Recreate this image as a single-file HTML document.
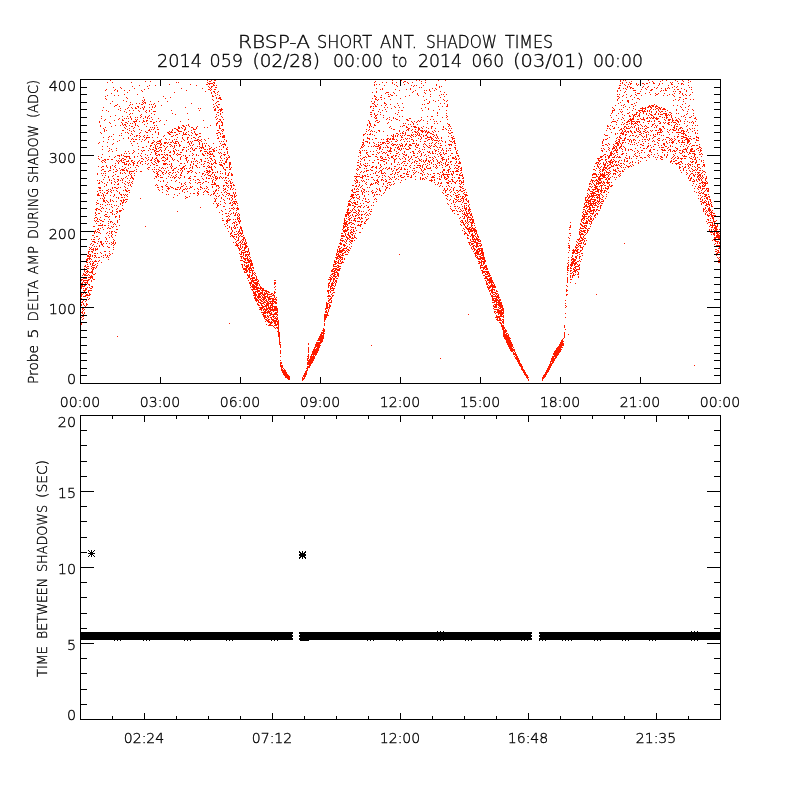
<!DOCTYPE html>
<html lang="en"><head><meta charset="utf-8"><title>RBSP-A SHORT ANT. SHADOW TIMES</title>
<style>html,body{margin:0;padding:0;background:#fff}svg{display:block}text{font-family:"DejaVu Sans Light","DejaVu Sans","Liberation Sans",sans-serif;fill:#000;stroke:#000;stroke-width:.35px}.ln{stroke:#000;stroke-width:1;fill:none;shape-rendering:crispEdges}.dt{stroke:#ff1c00;stroke-width:1;fill:none;shape-rendering:crispEdges}.bk{fill:#000;stroke:none;shape-rendering:crispEdges}</style></head><body>
<svg width="800" height="800" viewBox="0 0 800 800">
<rect width="800" height="800" fill="#fff"/>
<path class="dt" transform="translate(0 .5)" d="M81 279h1M81 280h1M81 283h1M81 285h1M81 286h1M81 287h1M81 288h1M81 293h1M81 294h1M81 295h1M81 296h1M81 298h1M81 299h1M81 302h1M81 304h1M81 305h1M81 312h1M81 317h1M81 323h1M81 324h1M82 275h1M82 277h1M82 279h1M82 282h1M82 283h1M82 285h1M82 286h1M82 294h1M82 299h1M82 301h1M82 302h1M82 308h1M82 309h1M82 311h1M82 312h1M82 313h1M82 315h1M82 316h1M82 319h1M83 273h1M83 274h1M83 278h1M83 280h1M83 281h1M83 286h1M83 288h1M83 290h1M83 293h1M83 296h1M83 299h1M83 300h1M83 303h1M83 304h1M83 307h1M83 308h1M83 310h1M83 314h1M83 316h1M83 318h1M84 266h1M84 268h1M84 270h1M84 271h1M84 274h1M84 275h1M84 277h1M84 278h1M84 280h1M84 282h1M84 285h1M84 286h1M84 290h1M84 291h1M84 292h1M84 296h1M84 305h1M84 309h1M84 312h1M84 313h1M85 265h1M85 266h1M85 269h1M85 272h1M85 274h1M85 275h1M85 277h1M85 278h1M85 280h1M85 282h1M85 283h1M85 285h1M85 288h1M85 289h1M85 290h1M85 293h1M85 295h1M85 296h1M85 301h1M85 306h1M86 259h1M86 260h1M86 262h1M86 267h1M86 271h1M86 273h1M86 275h1M86 278h1M86 280h1M86 282h1M86 288h1M86 289h1M86 292h1M86 294h1M86 295h1M86 300h1M86 303h1M86 304h1M86 305h1M87 255h1M87 256h1M87 258h1M87 259h1M87 260h1M87 262h1M87 264h1M87 266h1M87 268h1M87 270h1M87 271h1M87 272h1M87 275h1M87 280h1M87 281h1M87 282h1M87 283h1M87 287h1M87 294h1M87 295h1M87 297h1M87 304h1M88 251h1M88 252h1M88 253h1M88 255h1M88 256h1M88 258h1M88 266h1M88 268h1M88 271h1M88 274h1M88 277h1M88 279h1M88 280h1M88 284h1M88 290h1M88 291h1M88 292h1M88 295h1M88 299h1M89 247h1M89 249h1M89 251h1M89 254h1M89 256h1M89 257h1M89 258h1M89 259h1M89 262h1M89 272h1M89 275h1M89 277h1M89 279h1M89 284h1M89 285h1M89 287h1M89 290h1M89 293h1M89 294h1M89 295h1M89 298h1M90 244h1M90 248h1M90 254h1M90 255h1M90 256h1M90 258h1M90 261h1M90 263h1M90 264h1M90 272h1M90 276h1M90 277h1M90 278h1M90 288h1M90 290h1M90 294h1M91 239h1M91 243h1M91 247h1M91 249h1M91 251h1M91 259h1M91 266h1M91 268h1M91 271h1M91 272h1M91 275h1M91 276h1M91 277h1M91 280h1M91 281h1M91 286h1M91 288h1M91 290h1M92 235h1M92 241h1M92 245h1M92 249h1M92 251h1M92 252h1M92 255h1M92 256h1M92 261h1M92 263h1M92 264h1M92 265h1M92 267h1M92 269h1M92 270h1M92 271h1M92 272h1M92 273h1M92 276h1M92 277h1M92 278h1M92 286h1M92 287h1M93 226h1M93 231h1M93 235h1M93 239h1M93 241h1M93 244h1M93 248h1M93 249h1M93 250h1M93 262h1M93 263h1M93 265h1M93 267h1M93 268h1M93 269h1M93 274h1M93 279h1M94 218h1M94 220h1M94 226h1M94 231h1M94 232h1M94 233h1M94 237h1M94 239h1M94 241h1M94 242h1M94 246h1M94 253h1M94 255h1M94 257h1M94 261h1M94 265h1M94 267h1M94 274h1M94 279h1M95 209h1M95 212h1M95 213h1M95 215h1M95 217h1M95 221h1M95 230h1M95 231h1M95 242h1M95 248h1M95 249h1M95 250h1M95 253h1M95 255h1M95 256h1M95 260h1M95 261h1M95 264h1M95 268h1M95 273h1M96 202h1M96 204h1M96 208h1M96 209h1M96 210h1M96 214h1M96 217h1M96 220h1M96 223h1M96 232h1M96 236h1M96 246h1M96 249h1M96 257h1M96 261h1M96 266h1M96 267h1M97 173h1M97 174h1M97 180h1M97 191h1M97 194h1M97 195h1M97 200h1M97 203h1M97 208h1M97 218h1M97 219h1M97 221h1M97 229h1M97 231h1M97 236h1M97 243h1M97 248h1M97 249h1M97 253h1M97 263h1M97 265h1M98 143h1M98 156h1M98 158h1M98 166h1M98 183h1M98 187h1M98 193h1M98 194h1M98 195h1M98 203h1M98 209h1M98 213h1M98 221h1M98 225h1M98 228h1M98 229h1M98 232h1M98 239h1M98 241h1M98 257h1M98 261h1M99 121h1M99 122h1M99 142h1M99 159h1M99 180h1M99 182h1M99 183h1M99 187h1M99 188h1M99 190h1M99 195h1M99 209h1M99 213h1M99 219h1M99 225h1M99 230h1M99 232h1M99 238h1M99 245h1M99 246h1M99 257h1M99 260h1M100 125h1M100 126h1M100 132h1M100 187h1M100 188h1M100 190h1M100 192h1M100 198h1M100 204h1M100 206h1M100 210h1M100 217h1M100 220h1M100 223h1M100 225h1M100 228h1M100 233h1M100 241h1M100 242h1M100 252h1M101 116h1M101 118h1M101 133h1M101 157h1M101 161h1M101 167h1M101 170h1M101 173h1M101 181h1M101 195h1M101 208h1M101 211h1M101 220h1M101 225h1M101 241h1M101 242h1M101 243h1M101 244h1M101 253h1M101 256h1M101 262h1M102 110h1M102 146h1M102 149h1M102 154h1M102 160h1M102 162h1M102 166h1M102 169h1M102 175h1M102 182h1M102 190h1M102 193h1M102 198h1M102 204h1M102 207h1M102 221h1M102 224h1M102 225h1M102 227h1M102 244h1M102 245h1M103 107h1M103 128h1M103 137h1M103 141h1M103 160h1M103 166h1M103 169h1M103 173h1M103 179h1M103 194h1M103 195h1M103 196h1M103 199h1M103 200h1M103 201h1M103 208h1M103 221h1M103 229h1M103 243h1M103 246h1M103 255h1M103 257h1M104 120h1M104 129h1M104 130h1M104 131h1M104 159h1M104 161h1M104 171h1M104 177h1M104 183h1M104 186h1M104 192h1M104 197h1M104 198h1M104 200h1M104 201h1M104 215h1M104 219h1M104 225h1M104 251h1M105 90h1M105 96h1M105 98h1M105 119h1M105 127h1M105 159h1M105 160h1M105 162h1M105 171h1M105 173h1M105 175h1M105 195h1M105 202h1M105 205h1M105 211h1M105 214h1M105 216h1M105 225h1M105 237h1M105 241h1M105 251h1M105 254h1M105 255h1M106 89h1M106 99h1M106 110h1M106 130h1M106 165h1M106 166h1M106 184h1M106 185h1M106 190h1M106 193h1M106 200h1M106 208h1M106 214h1M106 216h1M106 233h1M106 238h1M106 239h1M106 243h1M106 257h1M107 82h1M107 95h1M107 142h1M107 146h1M107 159h1M107 167h1M107 182h1M107 190h1M107 192h1M107 193h1M107 201h1M107 204h1M107 212h1M107 216h1M107 228h1M107 232h1M107 241h1M107 246h1M107 255h1M107 256h1M108 111h1M108 137h1M108 139h1M108 151h1M108 159h1M108 171h1M108 176h1M108 177h1M108 189h1M108 191h1M108 202h1M108 217h1M108 221h1M108 223h1M108 225h1M108 227h1M108 235h1M108 247h1M108 257h1M108 259h1M109 122h1M109 136h1M109 148h1M109 150h1M109 156h1M109 170h1M109 179h1M109 180h1M109 204h1M109 209h1M109 216h1M109 219h1M109 228h1M109 231h1M109 233h1M109 237h1M109 243h1M109 247h1M109 251h1M109 253h1M109 255h1M110 80h1M110 103h1M110 116h1M110 123h1M110 166h1M110 167h1M110 168h1M110 170h1M110 189h1M110 191h1M110 195h1M110 199h1M110 200h1M110 201h1M110 212h1M110 221h1M110 222h1M110 228h1M110 254h1M111 93h1M111 126h1M111 136h1M111 149h1M111 159h1M111 180h1M111 182h1M111 183h1M111 190h1M111 192h1M111 204h1M111 206h1M111 212h1M111 221h1M111 226h1M111 231h1M111 232h1M111 233h1M111 235h1M111 236h1M111 242h1M111 244h1M112 82h1M112 101h1M112 144h1M112 151h1M112 159h1M112 165h1M112 176h1M112 187h1M112 188h1M112 200h1M112 207h1M112 210h1M112 211h1M112 213h1M112 214h1M112 222h1M112 227h1M112 231h1M112 234h1M112 237h1M112 243h1M112 253h1M113 87h1M113 134h1M113 139h1M113 143h1M113 169h1M113 172h1M113 175h1M113 178h1M113 190h1M113 196h1M113 201h1M113 224h1M113 226h1M113 239h1M113 241h1M113 242h1M113 243h1M113 245h1M113 247h1M113 249h1M114 90h1M114 95h1M114 106h1M114 120h1M114 157h1M114 166h1M114 179h1M114 181h1M114 184h1M114 187h1M114 194h1M114 195h1M114 205h1M114 214h1M114 223h1M114 231h1M114 240h1M114 244h1M115 89h1M115 105h1M115 115h1M115 125h1M115 156h1M115 163h1M115 165h1M115 167h1M115 171h1M115 174h1M115 182h1M115 187h1M115 216h1M115 217h1M115 224h1M115 232h1M115 235h1M115 242h1M115 243h1M116 105h1M116 148h1M116 150h1M116 160h1M116 169h1M116 171h1M116 188h1M116 190h1M116 197h1M116 201h1M116 205h1M116 209h1M116 211h1M116 213h1M116 216h1M116 226h1M116 229h1M116 232h1M117 90h1M117 91h1M117 104h1M117 141h1M117 155h1M117 161h1M117 170h1M117 176h1M117 179h1M117 181h1M117 184h1M117 188h1M117 191h1M117 208h1M117 211h1M117 212h1M117 220h1M117 221h1M117 222h1M117 229h1M117 336h1M118 95h1M118 109h1M118 119h1M118 155h1M118 160h1M118 162h1M118 163h1M118 176h1M118 179h1M118 180h1M118 183h1M118 184h1M118 187h1M118 197h1M118 198h1M118 206h1M119 106h1M119 118h1M119 135h1M119 140h1M119 155h1M119 156h1M119 158h1M119 161h1M119 168h1M119 192h1M119 193h1M119 210h1M119 211h1M119 215h1M119 216h1M119 217h1M119 219h1M119 225h1M120 87h1M120 108h1M120 110h1M120 125h1M120 160h1M120 170h1M120 172h1M120 173h1M120 180h1M120 187h1M120 194h1M120 200h1M120 203h1M120 204h1M120 210h1M120 211h1M121 88h1M121 122h1M121 133h1M121 135h1M121 154h1M121 155h1M121 159h1M121 160h1M121 161h1M121 169h1M121 178h1M121 194h1M121 195h1M121 197h1M121 200h1M121 201h1M121 210h1M122 116h1M122 119h1M122 120h1M122 123h1M122 124h1M122 130h1M122 158h1M122 162h1M122 166h1M122 169h1M122 170h1M122 173h1M122 179h1M122 180h1M122 182h1M122 197h1M122 202h1M122 203h1M122 205h1M122 208h1M123 100h1M123 120h1M123 125h1M123 130h1M123 138h1M123 155h1M123 158h1M123 160h1M123 162h1M123 169h1M123 170h1M123 178h1M123 190h1M123 194h1M123 199h1M123 200h1M123 201h1M123 202h1M123 209h1M124 90h1M124 94h1M124 111h1M124 118h1M124 124h1M124 127h1M124 153h1M124 156h1M124 159h1M124 162h1M124 163h1M124 164h1M124 168h1M124 170h1M124 172h1M124 183h1M124 186h1M124 195h1M124 197h1M124 200h1M125 109h1M125 122h1M125 124h1M125 125h1M125 128h1M125 132h1M125 151h1M125 156h1M125 159h1M125 164h1M125 167h1M125 173h1M125 177h1M125 181h1M125 184h1M125 187h1M125 189h1M125 190h1M125 194h1M125 199h1M125 202h1M126 97h1M126 101h1M126 112h1M126 118h1M126 122h1M126 126h1M126 153h1M126 156h1M126 157h1M126 161h1M126 163h1M126 164h1M126 169h1M126 170h1M126 176h1M126 190h1M126 191h1M126 195h1M126 199h1M126 201h1M127 92h1M127 98h1M127 108h1M127 116h1M127 123h1M127 129h1M127 132h1M127 156h1M127 161h1M127 170h1M127 171h1M127 178h1M127 182h1M127 188h1M127 191h1M127 194h1M127 196h1M127 199h1M128 107h1M128 118h1M128 121h1M128 133h1M128 137h1M128 138h1M128 151h1M128 156h1M128 160h1M128 161h1M128 164h1M128 165h1M128 168h1M128 175h1M128 183h1M128 185h1M128 190h1M129 90h1M129 105h1M129 110h1M129 114h1M129 125h1M129 128h1M129 130h1M129 153h1M129 156h1M129 157h1M129 158h1M129 163h1M129 171h1M129 172h1M129 173h1M129 180h1M129 182h1M129 190h1M129 192h1M130 102h1M130 104h1M130 113h1M130 116h1M130 117h1M130 123h1M130 135h1M130 141h1M130 158h1M130 164h1M130 167h1M130 171h1M130 174h1M130 178h1M130 184h1M130 185h1M131 82h1M131 107h1M131 118h1M131 119h1M131 126h1M131 131h1M131 133h1M131 139h1M131 143h1M131 160h1M131 161h1M131 171h1M131 173h1M131 175h1M131 176h1M131 177h1M131 182h1M131 186h1M132 86h1M132 104h1M132 108h1M132 113h1M132 123h1M132 126h1M132 134h1M132 138h1M132 145h1M132 153h1M132 160h1M132 162h1M132 171h1M132 177h1M132 178h1M132 181h1M132 183h1M133 110h1M133 121h1M133 128h1M133 130h1M133 139h1M133 141h1M133 150h1M133 152h1M133 162h1M133 163h1M133 164h1M133 165h1M133 171h1M133 178h1M133 179h1M134 88h1M134 121h1M134 122h1M134 127h1M134 131h1M134 136h1M134 141h1M134 151h1M134 156h1M134 157h1M134 161h1M134 163h1M134 170h1M134 173h1M134 175h1M135 107h1M135 108h1M135 117h1M135 119h1M135 121h1M135 123h1M135 124h1M135 125h1M135 139h1M135 167h1M136 103h1M136 108h1M136 120h1M136 121h1M136 135h1M136 136h1M136 139h1M136 165h1M136 169h1M136 171h1M137 94h1M137 106h1M137 117h1M137 119h1M137 125h1M137 135h1M137 143h1M137 156h1M137 162h1M137 163h1M137 165h1M138 106h1M138 107h1M138 110h1M138 126h1M138 146h1M138 149h1M138 153h1M138 161h1M138 166h1M139 85h1M139 103h1M139 111h1M139 121h1M139 129h1M139 133h1M139 135h1M139 137h1M139 139h1M139 160h1M140 108h1M140 115h1M140 117h1M140 132h1M140 136h1M140 155h1M140 162h1M140 163h1M140 171h1M140 198h1M141 90h1M141 104h1M141 114h1M141 116h1M141 130h1M141 141h1M141 150h1M141 153h1M141 156h1M141 158h1M141 161h1M141 171h1M142 91h1M142 100h1M142 102h1M142 104h1M142 107h1M142 122h1M142 139h1M142 147h1M142 151h1M142 158h1M142 161h1M142 164h1M143 97h1M143 101h1M143 103h1M143 108h1M143 109h1M143 118h1M143 120h1M143 121h1M143 136h1M143 147h1M143 150h1M143 159h1M144 89h1M144 99h1M144 100h1M144 102h1M144 106h1M144 107h1M144 121h1M144 124h1M144 135h1M144 137h1M144 140h1M144 150h1M145 81h1M145 102h1M145 103h1M145 111h1M145 116h1M145 117h1M145 131h1M145 139h1M145 154h1M145 157h1M145 161h1M145 163h1M145 226h1M146 110h1M146 112h1M146 120h1M146 121h1M146 126h1M146 132h1M146 137h1M146 138h1M146 146h1M146 158h1M147 86h1M147 117h1M147 118h1M147 120h1M147 123h1M147 132h1M147 135h1M147 137h1M147 155h1M147 160h1M147 164h1M147 168h1M148 88h1M148 116h1M148 130h1M148 137h1M148 141h1M148 142h1M148 150h1M148 157h1M148 159h1M148 163h1M148 167h1M148 169h1M149 85h1M149 104h1M149 107h1M149 110h1M149 111h1M149 115h1M149 118h1M149 129h1M149 130h1M149 137h1M149 148h1M149 167h1M150 81h1M150 101h1M150 121h1M150 127h1M150 131h1M150 145h1M150 146h1M150 149h1M150 154h1M150 160h1M150 165h1M151 104h1M151 109h1M151 113h1M151 117h1M151 121h1M151 129h1M151 143h1M151 145h1M151 152h1M151 159h1M151 160h1M151 162h1M152 106h1M152 107h1M152 119h1M152 127h1M152 134h1M152 137h1M152 142h1M152 143h1M152 149h1M152 157h1M152 158h1M152 163h1M152 169h1M153 104h1M153 111h1M153 122h1M153 123h1M153 129h1M153 140h1M153 142h1M153 147h1M153 149h1M153 164h1M153 171h1M154 103h1M154 107h1M154 111h1M154 114h1M154 122h1M154 125h1M154 127h1M154 128h1M154 141h1M154 144h1M154 150h1M154 151h1M154 159h1M154 161h1M154 164h1M154 167h1M154 169h1M154 172h1M154 178h1M155 85h1M155 105h1M155 106h1M155 111h1M155 131h1M155 132h1M155 145h1M155 146h1M155 147h1M155 148h1M155 150h1M155 152h1M155 153h1M155 154h1M155 158h1M155 160h1M155 162h1M155 176h1M155 185h1M156 121h1M156 125h1M156 142h1M156 144h1M156 148h1M156 149h1M156 151h1M156 153h1M156 155h1M156 157h1M156 158h1M156 163h1M156 165h1M156 169h1M156 171h1M156 173h1M156 176h1M156 177h1M156 184h1M157 127h1M157 129h1M157 137h1M157 141h1M157 143h1M157 146h1M157 151h1M157 155h1M157 159h1M157 160h1M157 161h1M157 165h1M157 172h1M157 173h1M157 174h1M157 175h1M157 185h1M157 187h1M158 101h1M158 118h1M158 129h1M158 132h1M158 133h1M158 134h1M158 141h1M158 143h1M158 148h1M158 151h1M158 154h1M158 160h1M158 161h1M158 162h1M158 169h1M158 171h1M158 174h1M158 176h1M158 180h1M158 187h1M158 189h1M159 121h1M159 140h1M159 141h1M159 143h1M159 147h1M159 150h1M159 154h1M159 155h1M159 161h1M159 167h1M159 170h1M159 190h1M160 120h1M160 140h1M160 141h1M160 142h1M160 144h1M160 145h1M160 147h1M160 149h1M160 170h1M160 175h1M160 177h1M160 181h1M161 105h1M161 139h1M161 143h1M161 144h1M161 147h1M161 150h1M161 151h1M161 154h1M161 158h1M161 168h1M161 171h1M161 177h1M161 186h1M162 154h1M162 157h1M162 160h1M162 167h1M162 172h1M162 173h1M162 177h1M162 186h1M162 187h1M162 189h1M162 192h1M163 96h1M163 136h1M163 145h1M163 156h1M163 157h1M163 160h1M163 163h1M163 164h1M163 168h1M163 172h1M163 174h1M163 180h1M163 181h1M164 124h1M164 135h1M164 142h1M164 143h1M164 146h1M164 150h1M164 152h1M164 154h1M164 157h1M164 161h1M164 163h1M164 164h1M164 170h1M165 98h1M165 138h1M165 142h1M165 143h1M165 148h1M165 149h1M165 155h1M165 158h1M165 160h1M165 163h1M165 164h1M165 168h1M165 173h1M165 185h1M166 120h1M166 139h1M166 142h1M166 147h1M166 154h1M166 159h1M166 163h1M166 171h1M166 172h1M166 178h1M166 184h1M166 186h1M166 190h1M166 194h1M167 101h1M167 132h1M167 143h1M167 146h1M167 154h1M167 155h1M167 157h1M167 158h1M167 159h1M167 164h1M167 167h1M167 182h1M167 186h1M167 188h1M167 191h1M168 132h1M168 133h1M168 142h1M168 150h1M168 170h1M168 173h1M168 176h1M168 187h1M168 188h1M168 189h1M168 194h1M169 84h1M169 131h1M169 133h1M169 134h1M169 139h1M169 144h1M169 152h1M169 155h1M169 161h1M169 164h1M169 172h1M169 174h1M169 188h1M170 97h1M170 132h1M170 134h1M170 142h1M170 144h1M170 146h1M170 151h1M170 152h1M170 155h1M170 156h1M170 166h1M170 172h1M170 177h1M170 186h1M171 110h1M171 131h1M171 132h1M171 136h1M171 142h1M171 145h1M171 157h1M171 163h1M171 164h1M171 165h1M171 167h1M171 168h1M171 175h1M171 180h1M171 187h1M172 113h1M172 129h1M172 130h1M172 132h1M172 136h1M172 140h1M172 141h1M172 146h1M172 158h1M172 159h1M172 166h1M172 170h1M172 173h1M172 177h1M172 187h1M173 135h1M173 142h1M173 148h1M173 150h1M173 151h1M173 154h1M173 160h1M173 169h1M173 170h1M173 172h1M173 176h1M173 188h1M173 197h1M174 92h1M174 128h1M174 132h1M174 139h1M174 143h1M174 145h1M174 146h1M174 147h1M174 151h1M174 152h1M174 153h1M174 159h1M174 168h1M174 177h1M174 178h1M174 194h1M175 114h1M175 128h1M175 132h1M175 135h1M175 141h1M175 142h1M175 143h1M175 149h1M175 168h1M175 172h1M175 175h1M175 177h1M175 181h1M175 188h1M175 189h1M176 82h1M176 129h1M176 134h1M176 139h1M176 141h1M176 143h1M176 145h1M176 150h1M176 154h1M176 167h1M176 174h1M176 176h1M176 180h1M176 189h1M177 129h1M177 130h1M177 134h1M177 137h1M177 141h1M177 153h1M177 155h1M177 160h1M177 171h1M177 187h1M177 189h1M177 195h1M177 211h1M178 82h1M178 126h1M178 127h1M178 128h1M178 130h1M178 131h1M178 142h1M178 143h1M178 150h1M178 154h1M178 161h1M178 169h1M178 172h1M178 177h1M178 187h1M179 127h1M179 128h1M179 131h1M179 133h1M179 144h1M179 145h1M179 146h1M179 154h1M179 165h1M179 178h1M179 182h1M179 189h1M179 193h1M180 121h1M180 131h1M180 145h1M180 152h1M180 154h1M180 157h1M180 158h1M180 159h1M180 163h1M180 168h1M180 170h1M180 174h1M180 175h1M180 177h1M180 187h1M180 188h1M181 88h1M181 127h1M181 131h1M181 141h1M181 152h1M181 156h1M181 163h1M181 168h1M181 169h1M181 172h1M181 173h1M181 175h1M181 183h1M181 184h1M181 186h1M182 125h1M182 128h1M182 135h1M182 137h1M182 138h1M182 149h1M182 150h1M182 167h1M182 168h1M182 170h1M182 171h1M182 186h1M182 190h1M182 191h1M183 125h1M183 126h1M183 132h1M183 133h1M183 134h1M183 139h1M183 147h1M183 149h1M183 155h1M183 166h1M183 167h1M183 185h1M183 189h1M184 126h1M184 129h1M184 130h1M184 134h1M184 140h1M184 147h1M184 163h1M184 166h1M184 168h1M184 169h1M184 176h1M184 177h1M184 183h1M184 189h1M184 192h1M185 107h1M185 127h1M185 128h1M185 129h1M185 133h1M185 134h1M185 155h1M185 156h1M185 158h1M185 165h1M185 182h1M185 184h1M185 188h1M185 196h1M185 198h1M186 90h1M186 125h1M186 132h1M186 134h1M186 147h1M186 150h1M186 151h1M186 157h1M186 158h1M186 159h1M186 160h1M186 168h1M186 186h1M186 189h1M186 197h1M187 113h1M187 137h1M187 138h1M187 139h1M187 142h1M187 157h1M187 161h1M187 162h1M187 171h1M187 173h1M187 188h1M187 191h1M187 197h1M188 119h1M188 124h1M188 125h1M188 131h1M188 134h1M188 137h1M188 141h1M188 142h1M188 146h1M188 149h1M188 160h1M188 171h1M188 172h1M188 178h1M189 126h1M189 135h1M189 143h1M189 144h1M189 155h1M189 168h1M189 171h1M189 177h1M189 178h1M189 182h1M189 188h1M189 196h1M190 84h1M190 141h1M190 145h1M190 148h1M190 151h1M190 164h1M190 165h1M190 167h1M190 170h1M190 176h1M190 178h1M190 180h1M190 183h1M190 186h1M190 187h1M190 193h1M191 103h1M191 127h1M191 130h1M191 132h1M191 135h1M191 138h1M191 142h1M191 143h1M191 147h1M191 161h1M191 162h1M191 170h1M191 172h1M191 187h1M192 127h1M192 133h1M192 141h1M192 145h1M192 148h1M192 149h1M192 153h1M192 155h1M192 158h1M192 166h1M192 167h1M192 168h1M192 171h1M192 186h1M193 128h1M193 129h1M193 137h1M193 144h1M193 150h1M193 154h1M193 161h1M193 163h1M193 164h1M193 179h1M193 193h1M194 129h1M194 131h1M194 132h1M194 137h1M194 140h1M194 149h1M194 150h1M194 158h1M194 159h1M194 176h1M194 189h1M194 193h1M195 129h1M195 133h1M195 134h1M195 138h1M195 140h1M195 148h1M195 161h1M195 165h1M195 172h1M195 176h1M195 180h1M195 182h1M196 85h1M196 127h1M196 128h1M196 134h1M196 135h1M196 140h1M196 148h1M196 154h1M196 155h1M196 160h1M196 165h1M196 166h1M196 173h1M197 126h1M197 134h1M197 139h1M197 140h1M197 146h1M197 161h1M197 163h1M197 167h1M197 179h1M197 183h1M197 188h1M197 192h1M197 193h1M197 195h1M198 108h1M198 137h1M198 139h1M198 141h1M198 155h1M198 179h1M198 182h1M198 189h1M198 191h1M198 193h1M198 194h1M199 110h1M199 133h1M199 136h1M199 140h1M199 142h1M199 143h1M199 144h1M199 146h1M199 148h1M199 162h1M199 167h1M199 172h1M199 180h1M199 182h1M200 108h1M200 133h1M200 136h1M200 140h1M200 147h1M200 150h1M200 151h1M200 159h1M200 182h1M200 184h1M200 186h1M200 187h1M200 189h1M200 207h1M201 139h1M201 141h1M201 147h1M201 148h1M201 150h1M201 159h1M201 160h1M201 161h1M201 164h1M201 176h1M201 187h1M202 88h1M202 143h1M202 144h1M202 145h1M202 146h1M202 147h1M202 153h1M202 154h1M202 173h1M202 174h1M202 178h1M202 183h1M202 188h1M203 120h1M203 147h1M203 148h1M203 154h1M203 155h1M203 164h1M203 166h1M203 173h1M203 179h1M203 182h1M203 192h1M203 194h1M204 127h1M204 139h1M204 143h1M204 149h1M204 151h1M204 155h1M204 161h1M204 163h1M204 166h1M204 171h1M204 175h1M204 188h1M204 191h1M205 91h1M205 140h1M205 145h1M205 146h1M205 149h1M205 151h1M205 153h1M205 158h1M205 161h1M205 174h1M205 181h1M205 190h1M206 84h1M206 143h1M206 151h1M206 168h1M206 170h1M206 172h1M206 177h1M206 178h1M206 181h1M206 186h1M206 188h1M206 191h1M207 80h1M207 82h1M207 84h1M207 127h1M207 149h1M207 152h1M207 153h1M207 155h1M207 158h1M207 162h1M207 166h1M207 170h1M207 171h1M207 172h1M207 174h1M207 187h1M207 191h1M207 192h1M208 83h1M208 86h1M208 89h1M208 138h1M208 145h1M208 153h1M208 160h1M208 162h1M208 165h1M208 167h1M208 171h1M208 173h1M208 175h1M208 178h1M208 182h1M208 189h1M208 192h1M208 194h1M209 81h1M209 83h1M209 84h1M209 87h1M209 89h1M209 146h1M209 148h1M209 149h1M209 151h1M209 152h1M209 154h1M209 157h1M209 163h1M209 166h1M209 167h1M209 170h1M209 171h1M209 172h1M209 175h1M209 178h1M210 81h1M210 83h1M210 88h1M210 90h1M210 125h1M210 148h1M210 151h1M210 153h1M210 154h1M210 156h1M210 158h1M210 161h1M210 167h1M210 171h1M210 175h1M210 176h1M210 195h1M211 80h1M211 83h1M211 86h1M211 87h1M211 89h1M211 92h1M211 93h1M211 147h1M211 151h1M211 154h1M211 158h1M211 159h1M211 163h1M211 164h1M211 166h1M211 167h1M211 168h1M211 169h1M211 174h1M211 178h1M211 184h1M211 194h1M212 83h1M212 86h1M212 95h1M212 96h1M212 99h1M212 149h1M212 153h1M212 154h1M212 160h1M212 164h1M212 169h1M212 170h1M212 172h1M212 173h1M212 176h1M212 180h1M212 181h1M212 182h1M212 184h1M212 186h1M212 187h1M213 82h1M213 84h1M213 85h1M213 91h1M213 96h1M213 100h1M213 104h1M213 107h1M213 143h1M213 149h1M213 150h1M213 151h1M213 155h1M213 156h1M213 163h1M213 172h1M213 177h1M213 179h1M213 184h1M213 191h1M213 193h1M213 194h1M213 203h1M214 80h1M214 82h1M214 83h1M214 85h1M214 89h1M214 91h1M214 92h1M214 106h1M214 109h1M214 110h1M214 148h1M214 150h1M214 151h1M214 156h1M214 159h1M214 162h1M214 166h1M214 174h1M214 175h1M214 182h1M214 183h1M214 184h1M214 192h1M214 193h1M214 198h1M214 201h1M215 80h1M215 87h1M215 89h1M215 93h1M215 95h1M215 103h1M215 108h1M215 109h1M215 110h1M215 117h1M215 160h1M215 161h1M215 162h1M215 163h1M215 167h1M215 172h1M215 176h1M215 177h1M215 178h1M215 180h1M215 183h1M215 184h1M215 190h1M215 191h1M215 195h1M215 199h1M215 200h1M215 201h1M216 85h1M216 87h1M216 97h1M216 98h1M216 102h1M216 105h1M216 114h1M216 116h1M216 119h1M216 123h1M216 124h1M216 125h1M216 133h1M216 147h1M216 150h1M216 163h1M216 176h1M216 178h1M216 179h1M216 185h1M216 186h1M216 189h1M216 190h1M216 196h1M216 198h1M216 203h1M216 207h1M217 92h1M217 94h1M217 101h1M217 106h1M217 107h1M217 112h1M217 118h1M217 122h1M217 123h1M217 130h1M217 133h1M217 135h1M217 138h1M217 171h1M217 172h1M217 177h1M217 178h1M217 185h1M217 193h1M217 204h1M217 205h1M217 206h1M218 91h1M218 98h1M218 101h1M218 104h1M218 107h1M218 110h1M218 112h1M218 115h1M218 121h1M218 130h1M218 132h1M218 137h1M218 138h1M218 152h1M218 185h1M218 186h1M218 188h1M218 190h1M218 196h1M218 203h1M218 205h1M219 95h1M219 97h1M219 98h1M219 104h1M219 109h1M219 119h1M219 121h1M219 125h1M219 126h1M219 127h1M219 128h1M219 132h1M219 141h1M219 146h1M219 149h1M219 153h1M219 162h1M219 164h1M219 177h1M219 178h1M219 187h1M219 195h1M219 212h1M220 97h1M220 98h1M220 99h1M220 109h1M220 110h1M220 111h1M220 113h1M220 114h1M220 119h1M220 120h1M220 128h1M220 133h1M220 134h1M220 136h1M220 143h1M220 152h1M220 156h1M220 157h1M220 160h1M220 164h1M220 165h1M220 171h1M220 173h1M220 176h1M220 201h1M220 204h1M221 99h1M221 108h1M221 109h1M221 110h1M221 116h1M221 121h1M221 122h1M221 125h1M221 130h1M221 141h1M221 145h1M221 149h1M221 153h1M221 155h1M221 158h1M221 162h1M221 164h1M221 165h1M221 177h1M221 192h1M221 197h1M221 198h1M221 210h1M222 109h1M222 112h1M222 117h1M222 122h1M222 123h1M222 124h1M222 125h1M222 129h1M222 131h1M222 133h1M222 136h1M222 137h1M222 144h1M222 160h1M222 165h1M222 166h1M222 173h1M222 178h1M222 194h1M222 211h1M222 214h1M222 218h1M222 220h1M223 119h1M223 129h1M223 130h1M223 135h1M223 136h1M223 137h1M223 141h1M223 144h1M223 146h1M223 147h1M223 154h1M223 163h1M223 167h1M223 168h1M223 177h1M223 185h1M223 186h1M223 188h1M223 190h1M223 195h1M223 199h1M223 206h1M223 220h1M224 135h1M224 136h1M224 137h1M224 139h1M224 143h1M224 144h1M224 152h1M224 154h1M224 155h1M224 158h1M224 163h1M224 164h1M224 169h1M224 180h1M224 185h1M224 189h1M224 192h1M224 200h1M224 202h1M224 206h1M224 224h1M225 144h1M225 145h1M225 154h1M225 161h1M225 162h1M225 169h1M225 170h1M225 172h1M225 173h1M225 174h1M225 177h1M225 178h1M225 182h1M225 188h1M225 189h1M225 191h1M225 196h1M225 203h1M225 209h1M225 213h1M225 226h1M226 140h1M226 141h1M226 148h1M226 149h1M226 157h1M226 159h1M226 160h1M226 161h1M226 162h1M226 167h1M226 177h1M226 180h1M226 182h1M226 183h1M226 185h1M226 192h1M226 194h1M226 213h1M226 216h1M226 220h1M226 221h1M226 223h1M227 147h1M227 149h1M227 151h1M227 152h1M227 153h1M227 158h1M227 159h1M227 167h1M227 175h1M227 183h1M227 186h1M227 190h1M227 193h1M227 198h1M227 216h1M227 219h1M227 220h1M227 221h1M227 222h1M227 225h1M227 228h1M228 155h1M228 157h1M228 173h1M228 174h1M228 175h1M228 178h1M228 181h1M228 185h1M228 187h1M228 193h1M228 195h1M228 213h1M228 215h1M228 218h1M228 220h1M228 231h1M229 156h1M229 157h1M229 162h1M229 163h1M229 164h1M229 165h1M229 166h1M229 167h1M229 169h1M229 172h1M229 180h1M229 193h1M229 194h1M229 198h1M229 199h1M229 203h1M229 208h1M229 211h1M229 216h1M229 219h1M229 220h1M229 226h1M229 227h1M229 323h1M230 162h1M230 163h1M230 164h1M230 168h1M230 169h1M230 181h1M230 182h1M230 183h1M230 185h1M230 188h1M230 189h1M230 195h1M230 202h1M230 203h1M230 210h1M230 214h1M230 219h1M230 233h1M230 234h1M230 236h1M231 167h1M231 173h1M231 174h1M231 175h1M231 179h1M231 183h1M231 185h1M231 186h1M231 187h1M231 195h1M231 197h1M231 200h1M231 205h1M231 208h1M231 213h1M231 227h1M231 228h1M231 229h1M231 232h1M231 233h1M231 235h1M232 174h1M232 175h1M232 182h1M232 189h1M232 195h1M232 196h1M232 198h1M232 199h1M232 202h1M232 204h1M232 205h1M232 208h1M232 223h1M232 230h1M232 231h1M232 235h1M232 236h1M233 184h1M233 185h1M233 188h1M233 192h1M233 193h1M233 201h1M233 203h1M233 207h1M233 209h1M233 212h1M233 213h1M233 219h1M233 222h1M233 227h1M233 236h1M233 237h1M233 242h1M234 185h1M234 194h1M234 195h1M234 196h1M234 197h1M234 201h1M234 202h1M234 203h1M234 208h1M234 215h1M234 222h1M234 223h1M234 225h1M234 226h1M234 228h1M234 232h1M234 234h1M234 236h1M234 238h1M235 189h1M235 192h1M235 193h1M235 196h1M235 199h1M235 201h1M235 203h1M235 204h1M235 213h1M235 214h1M235 215h1M235 219h1M235 221h1M235 227h1M235 228h1M235 234h1M235 239h1M235 242h1M235 245h1M236 195h1M236 201h1M236 202h1M236 208h1M236 210h1M236 212h1M236 222h1M236 224h1M236 225h1M236 231h1M236 234h1M236 236h1M236 237h1M236 241h1M236 243h1M236 244h1M236 245h1M237 203h1M237 205h1M237 207h1M237 208h1M237 209h1M237 214h1M237 215h1M237 217h1M237 218h1M237 219h1M237 224h1M237 227h1M237 233h1M237 240h1M237 244h1M237 245h1M237 246h1M238 208h1M238 209h1M238 213h1M238 216h1M238 218h1M238 220h1M238 221h1M238 231h1M238 232h1M238 234h1M238 235h1M238 237h1M238 238h1M238 239h1M238 240h1M238 243h1M238 245h1M238 247h1M238 248h1M239 214h1M239 215h1M239 217h1M239 218h1M239 219h1M239 221h1M239 222h1M239 223h1M239 229h1M239 230h1M239 231h1M239 233h1M239 236h1M239 242h1M239 248h1M239 249h1M239 250h1M239 253h1M240 220h1M240 221h1M240 226h1M240 227h1M240 228h1M240 232h1M240 233h1M240 235h1M240 241h1M240 242h1M240 244h1M240 245h1M240 246h1M240 247h1M240 249h1M240 254h1M240 256h1M240 260h1M241 227h1M241 228h1M241 229h1M241 230h1M241 233h1M241 234h1M241 236h1M241 240h1M241 243h1M241 248h1M241 251h1M241 252h1M241 253h1M241 254h1M241 256h1M241 257h1M241 258h1M241 260h1M241 264h1M242 230h1M242 231h1M242 232h1M242 233h1M242 236h1M242 239h1M242 241h1M242 242h1M242 244h1M242 246h1M242 247h1M242 250h1M242 252h1M242 256h1M242 260h1M242 264h1M242 265h1M242 266h1M242 267h1M243 235h1M243 237h1M243 238h1M243 239h1M243 240h1M243 244h1M243 250h1M243 252h1M243 253h1M243 254h1M243 255h1M243 257h1M243 258h1M243 261h1M243 268h1M243 269h1M244 237h1M244 238h1M244 242h1M244 243h1M244 244h1M244 247h1M244 248h1M244 249h1M244 250h1M244 252h1M244 258h1M244 259h1M244 261h1M244 262h1M244 264h1M244 265h1M244 268h1M244 269h1M244 271h1M244 272h1M245 239h1M245 240h1M245 241h1M245 243h1M245 244h1M245 245h1M245 246h1M245 247h1M245 248h1M245 251h1M245 252h1M245 254h1M245 255h1M245 256h1M245 258h1M245 259h1M245 260h1M245 262h1M245 266h1M245 268h1M245 269h1M245 270h1M245 272h1M246 242h1M246 243h1M246 245h1M246 246h1M246 247h1M246 251h1M246 254h1M246 255h1M246 258h1M246 262h1M246 263h1M246 265h1M246 266h1M246 267h1M246 268h1M246 269h1M246 270h1M246 271h1M246 272h1M247 246h1M247 251h1M247 252h1M247 254h1M247 256h1M247 257h1M247 258h1M247 259h1M247 260h1M247 262h1M247 265h1M247 266h1M247 267h1M247 270h1M247 271h1M247 274h1M247 275h1M247 278h1M248 248h1M248 249h1M248 250h1M248 251h1M248 254h1M248 255h1M248 259h1M248 260h1M248 261h1M248 262h1M248 264h1M248 265h1M248 266h1M248 268h1M248 269h1M248 275h1M248 276h1M248 277h1M248 280h1M249 252h1M249 253h1M249 254h1M249 256h1M249 258h1M249 260h1M249 261h1M249 262h1M249 267h1M249 268h1M249 269h1M249 270h1M249 271h1M249 272h1M249 274h1M249 275h1M249 276h1M249 277h1M249 282h1M249 283h1M250 257h1M250 259h1M250 260h1M250 261h1M250 263h1M250 264h1M250 265h1M250 266h1M250 267h1M250 268h1M250 270h1M250 272h1M250 278h1M250 279h1M250 282h1M250 283h1M250 284h1M250 285h1M250 287h1M251 260h1M251 261h1M251 262h1M251 263h1M251 264h1M251 265h1M251 268h1M251 269h1M251 270h1M251 275h1M251 276h1M251 278h1M251 280h1M251 281h1M251 282h1M251 283h1M251 286h1M251 289h1M252 263h1M252 264h1M252 265h1M252 267h1M252 270h1M252 271h1M252 272h1M252 273h1M252 274h1M252 275h1M252 277h1M252 278h1M252 279h1M252 280h1M252 281h1M252 284h1M252 285h1M252 286h1M252 287h1M252 289h1M252 290h1M253 267h1M253 268h1M253 270h1M253 273h1M253 277h1M253 278h1M253 280h1M253 281h1M253 282h1M253 284h1M253 285h1M253 286h1M253 287h1M253 288h1M253 289h1M253 291h1M253 292h1M253 293h1M253 295h1M254 272h1M254 274h1M254 277h1M254 278h1M254 280h1M254 282h1M254 283h1M254 285h1M254 286h1M254 287h1M254 288h1M254 289h1M254 292h1M254 293h1M254 294h1M254 295h1M254 297h1M254 298h1M255 273h1M255 275h1M255 279h1M255 280h1M255 282h1M255 283h1M255 284h1M255 286h1M255 287h1M255 289h1M255 291h1M255 292h1M255 293h1M255 294h1M255 295h1M255 296h1M255 297h1M255 298h1M255 299h1M255 300h1M256 276h1M256 277h1M256 278h1M256 279h1M256 280h1M256 282h1M256 283h1M256 284h1M256 285h1M256 286h1M256 287h1M256 288h1M256 289h1M256 291h1M256 294h1M256 295h1M256 298h1M256 299h1M256 300h1M256 301h1M257 279h1M257 281h1M257 282h1M257 283h1M257 284h1M257 285h1M257 287h1M257 288h1M257 289h1M257 290h1M257 291h1M257 292h1M257 296h1M257 297h1M257 299h1M257 300h1M257 303h1M257 304h1M258 280h1M258 281h1M258 283h1M258 287h1M258 288h1M258 290h1M258 291h1M258 293h1M258 294h1M258 295h1M258 296h1M258 297h1M258 298h1M258 300h1M258 301h1M258 302h1M258 304h1M258 305h1M259 284h1M259 285h1M259 288h1M259 290h1M259 291h1M259 293h1M259 294h1M259 295h1M259 296h1M259 297h1M259 299h1M259 302h1M259 305h1M259 307h1M259 309h1M260 286h1M260 287h1M260 288h1M260 289h1M260 292h1M260 293h1M260 294h1M260 296h1M260 297h1M260 299h1M260 300h1M260 302h1M260 303h1M260 307h1M260 308h1M260 309h1M261 287h1M261 288h1M261 290h1M261 292h1M261 293h1M261 295h1M261 298h1M261 300h1M261 301h1M261 303h1M261 304h1M261 305h1M261 307h1M261 308h1M261 309h1M261 310h1M261 312h1M262 288h1M262 289h1M262 290h1M262 291h1M262 292h1M262 293h1M262 294h1M262 296h1M262 297h1M262 299h1M262 301h1M262 303h1M262 305h1M262 306h1M262 307h1M262 308h1M262 312h1M262 314h1M263 288h1M263 289h1M263 290h1M263 294h1M263 295h1M263 297h1M263 298h1M263 299h1M263 300h1M263 302h1M263 303h1M263 306h1M263 307h1M263 309h1M263 310h1M263 312h1M263 313h1M263 314h1M263 315h1M263 316h1M264 290h1M264 292h1M264 293h1M264 294h1M264 295h1M264 296h1M264 297h1M264 298h1M264 299h1M264 301h1M264 302h1M264 304h1M264 306h1M264 308h1M264 309h1M264 311h1M264 312h1M264 313h1M264 315h1M264 316h1M264 317h1M264 318h1M265 290h1M265 291h1M265 293h1M265 294h1M265 296h1M265 297h1M265 298h1M265 300h1M265 302h1M265 305h1M265 306h1M265 309h1M265 310h1M265 311h1M265 312h1M265 313h1M265 315h1M265 316h1M265 317h1M265 319h1M265 321h1M266 290h1M266 291h1M266 292h1M266 293h1M266 296h1M266 299h1M266 300h1M266 301h1M266 303h1M266 304h1M266 305h1M266 306h1M266 307h1M266 308h1M266 309h1M266 310h1M266 312h1M266 317h1M266 319h1M266 320h1M266 324h1M267 291h1M267 293h1M267 294h1M267 295h1M267 296h1M267 297h1M267 301h1M267 302h1M267 303h1M267 304h1M267 305h1M267 308h1M267 309h1M267 311h1M267 312h1M267 313h1M267 315h1M267 316h1M267 318h1M267 320h1M267 321h1M268 291h1M268 292h1M268 294h1M268 297h1M268 298h1M268 299h1M268 300h1M268 302h1M268 303h1M268 304h1M268 305h1M268 306h1M268 307h1M268 308h1M268 310h1M268 311h1M268 312h1M268 316h1M268 317h1M268 319h1M268 320h1M268 321h1M268 322h1M268 325h1M269 292h1M269 294h1M269 296h1M269 297h1M269 298h1M269 299h1M269 301h1M269 303h1M269 307h1M269 308h1M269 309h1M269 311h1M269 312h1M269 313h1M269 315h1M269 319h1M269 321h1M269 322h1M269 324h1M269 325h1M270 294h1M270 296h1M270 298h1M270 299h1M270 301h1M270 302h1M270 303h1M270 305h1M270 306h1M270 307h1M270 308h1M270 309h1M270 310h1M270 311h1M270 313h1M270 314h1M270 315h1M270 317h1M270 322h1M270 323h1M270 324h1M270 325h1M271 293h1M271 294h1M271 296h1M271 298h1M271 301h1M271 303h1M271 304h1M271 305h1M271 307h1M271 309h1M271 310h1M271 312h1M271 313h1M271 314h1M271 317h1M271 318h1M271 319h1M271 321h1M271 322h1M271 323h1M271 325h1M272 293h1M272 295h1M272 298h1M272 299h1M272 300h1M272 301h1M272 302h1M272 303h1M272 304h1M272 305h1M272 306h1M272 307h1M272 308h1M272 309h1M272 310h1M272 314h1M272 316h1M272 319h1M272 320h1M272 322h1M272 325h1M273 294h1M273 295h1M273 298h1M273 299h1M273 300h1M273 301h1M273 303h1M273 306h1M273 309h1M273 310h1M273 311h1M273 314h1M273 315h1M273 316h1M273 317h1M273 319h1M273 320h1M273 321h1M273 326h1M274 280h1M274 282h1M274 283h1M274 284h1M274 287h1M274 291h1M274 292h1M274 293h1M274 295h1M274 296h1M274 297h1M274 299h1M274 301h1M274 302h1M274 306h1M274 307h1M274 308h1M274 309h1M274 310h1M274 313h1M274 314h1M274 316h1M274 318h1M274 320h1M274 321h1M274 322h1M274 323h1M274 325h1M274 327h1M275 280h1M275 282h1M275 283h1M275 286h1M275 289h1M275 292h1M275 298h1M275 299h1M275 301h1M275 302h1M275 303h1M275 306h1M275 307h1M275 308h1M275 309h1M275 310h1M275 312h1M275 313h1M275 314h1M275 317h1M275 318h1M275 320h1M275 321h1M275 322h1M275 323h1M275 324h1M275 325h1M275 328h1M276 297h1M276 299h1M276 300h1M276 302h1M276 303h1M276 306h1M276 307h1M276 308h1M276 309h1M276 310h1M276 312h1M276 313h1M276 314h1M276 316h1M276 318h1M276 319h1M276 320h1M276 321h1M276 324h1M276 325h1M276 327h1M277 308h1M277 309h1M277 310h1M277 311h1M277 312h1M277 314h1M277 315h1M277 317h1M277 318h1M277 319h1M277 321h1M277 322h1M277 323h1M277 324h1M277 327h1M277 328h1M277 331h1M278 320h1M278 321h1M278 322h1M278 323h1M278 324h1M278 325h1M278 326h1M278 327h1M278 328h1M278 329h1M278 330h1M278 331h1M278 332h1M278 333h1M278 334h1M278 335h1M278 336h1M279 332h1M279 333h1M279 334h1M279 335h1M279 336h1M279 337h1M279 338h1M279 339h1M279 340h1M279 341h1M279 342h1M279 343h1M279 344h1M280 342h1M280 344h1M280 345h1M280 346h1M280 347h1M280 350h1M280 351h1M280 352h1M280 353h1M280 356h1M280 360h1M280 362h1M280 363h1M280 364h1M280 365h1M280 366h1M281 362h1M281 363h1M281 365h1M281 366h1M281 367h1M281 368h1M281 369h1M281 370h1M282 365h1M282 366h1M282 367h1M282 369h1M282 370h1M282 371h1M282 372h1M283 368h1M283 370h1M283 371h1M283 372h1M283 373h1M283 374h1M284 369h1M284 370h1M284 371h1M284 372h1M284 373h1M284 374h1M284 375h1M285 370h1M285 371h1M285 372h1M285 373h1M285 374h1M285 375h1M285 376h1M285 377h1M286 372h1M286 373h1M286 374h1M286 375h1M286 376h1M286 377h1M287 374h1M287 375h1M287 376h1M287 377h1M287 378h1M288 375h1M288 376h1M288 377h1M288 378h1M288 379h1M289 376h1M289 377h1M289 378h1M289 379h1M302 377h1M302 378h1M302 379h1M302 380h1M303 375h1M303 376h1M303 378h1M303 379h1M304 373h1M304 374h1M304 375h1M304 376h1M304 377h1M304 378h1M305 371h1M305 372h1M305 373h1M305 374h1M305 375h1M305 376h1M306 368h1M306 370h1M306 371h1M306 372h1M306 373h1M306 374h1M307 356h1M307 358h1M307 359h1M307 360h1M307 362h1M307 363h1M307 364h1M307 366h1M307 367h1M307 368h1M307 369h1M307 370h1M308 343h1M308 344h1M308 347h1M308 348h1M308 349h1M308 350h1M308 351h1M308 352h1M308 354h1M308 355h1M308 356h1M308 357h1M308 358h1M308 360h1M308 361h1M308 362h1M308 363h1M308 364h1M308 366h1M308 367h1M309 359h1M309 360h1M309 361h1M309 362h1M309 363h1M309 364h1M309 365h1M309 366h1M309 367h1M310 356h1M310 357h1M310 358h1M310 359h1M310 360h1M310 361h1M310 362h1M310 363h1M310 364h1M310 365h1M311 354h1M311 355h1M311 356h1M311 357h1M311 358h1M311 359h1M311 360h1M311 361h1M311 362h1M311 363h1M312 351h1M312 352h1M312 353h1M312 354h1M312 356h1M312 357h1M312 358h1M312 359h1M312 360h1M312 361h1M312 362h1M313 349h1M313 350h1M313 351h1M313 352h1M313 353h1M313 354h1M313 355h1M313 356h1M313 357h1M313 358h1M313 359h1M313 360h1M314 347h1M314 348h1M314 349h1M314 350h1M314 351h1M314 352h1M314 353h1M314 354h1M314 356h1M314 357h1M314 358h1M315 344h1M315 345h1M315 346h1M315 347h1M315 349h1M315 350h1M315 351h1M315 352h1M315 353h1M315 354h1M315 355h1M316 342h1M316 343h1M316 344h1M316 345h1M316 346h1M316 348h1M316 349h1M316 350h1M316 351h1M316 352h1M316 353h1M316 354h1M317 340h1M317 342h1M317 343h1M317 344h1M317 345h1M317 346h1M317 347h1M317 348h1M317 349h1M317 350h1M317 351h1M317 352h1M318 338h1M318 339h1M318 340h1M318 342h1M318 343h1M318 344h1M318 345h1M318 346h1M318 347h1M318 348h1M318 349h1M318 350h1M319 336h1M319 337h1M319 338h1M319 339h1M319 340h1M319 342h1M319 343h1M319 344h1M319 345h1M319 346h1M319 347h1M320 334h1M320 335h1M320 336h1M320 337h1M320 338h1M320 339h1M320 340h1M320 341h1M320 342h1M320 343h1M320 345h1M321 332h1M321 333h1M321 334h1M321 335h1M321 336h1M321 337h1M321 338h1M321 339h1M321 340h1M321 341h1M321 342h1M322 330h1M322 332h1M322 333h1M322 335h1M322 336h1M322 337h1M322 338h1M322 339h1M322 340h1M322 341h1M323 328h1M323 329h1M323 330h1M323 331h1M323 332h1M323 333h1M323 334h1M323 335h1M323 336h1M323 337h1M323 338h1M324 314h1M324 315h1M324 316h1M324 317h1M324 318h1M324 319h1M324 320h1M324 321h1M324 323h1M324 324h1M324 325h1M324 329h1M324 330h1M324 331h1M324 333h1M325 308h1M325 309h1M325 311h1M325 312h1M325 314h1M325 315h1M325 316h1M325 317h1M325 318h1M325 319h1M326 302h1M326 303h1M326 304h1M326 305h1M326 306h1M326 307h1M326 308h1M326 310h1M326 311h1M326 312h1M326 314h1M326 315h1M326 316h1M326 317h1M327 290h1M327 291h1M327 296h1M327 303h1M327 304h1M327 305h1M327 306h1M327 307h1M327 308h1M327 312h1M327 313h1M327 314h1M327 315h1M328 279h1M328 283h1M328 284h1M328 285h1M328 286h1M328 287h1M328 290h1M328 291h1M328 292h1M328 293h1M328 295h1M328 296h1M328 298h1M328 300h1M328 301h1M328 303h1M328 307h1M328 309h1M328 310h1M328 311h1M328 315h1M329 277h1M329 279h1M329 282h1M329 283h1M329 285h1M329 290h1M329 295h1M329 296h1M329 299h1M329 300h1M329 302h1M329 304h1M329 305h1M329 306h1M329 307h1M329 308h1M330 275h1M330 277h1M330 278h1M330 279h1M330 280h1M330 281h1M330 286h1M330 287h1M330 288h1M330 289h1M330 291h1M330 292h1M330 296h1M330 298h1M330 299h1M330 302h1M330 305h1M330 306h1M331 270h1M331 271h1M331 274h1M331 276h1M331 278h1M331 279h1M331 283h1M331 284h1M331 285h1M331 286h1M331 288h1M331 290h1M331 294h1M331 297h1M331 298h1M331 300h1M331 301h1M331 302h1M332 269h1M332 270h1M332 271h1M332 273h1M332 274h1M332 277h1M332 282h1M332 283h1M332 284h1M332 285h1M332 287h1M332 288h1M332 290h1M332 293h1M332 295h1M332 296h1M333 264h1M333 265h1M333 266h1M333 268h1M333 269h1M333 271h1M333 273h1M333 275h1M333 276h1M333 278h1M333 279h1M333 280h1M333 281h1M333 283h1M333 285h1M333 288h1M333 289h1M333 290h1M333 292h1M333 295h1M334 260h1M334 261h1M334 262h1M334 264h1M334 266h1M334 268h1M334 270h1M334 271h1M334 272h1M334 273h1M334 274h1M334 275h1M334 276h1M334 278h1M334 279h1M334 282h1M334 286h1M334 288h1M334 292h1M335 257h1M335 261h1M335 262h1M335 263h1M335 264h1M335 266h1M335 268h1M335 269h1M335 270h1M335 272h1M335 274h1M335 276h1M335 277h1M335 280h1M335 281h1M335 283h1M335 284h1M335 285h1M336 253h1M336 254h1M336 255h1M336 257h1M336 258h1M336 259h1M336 261h1M336 263h1M336 266h1M336 268h1M336 269h1M336 271h1M336 272h1M336 276h1M336 278h1M336 280h1M336 281h1M336 282h1M337 249h1M337 250h1M337 251h1M337 252h1M337 254h1M337 256h1M337 257h1M337 258h1M337 262h1M337 265h1M337 267h1M337 269h1M337 270h1M337 272h1M337 273h1M337 274h1M337 275h1M337 278h1M338 246h1M338 247h1M338 251h1M338 253h1M338 254h1M338 255h1M338 256h1M338 258h1M338 260h1M338 261h1M338 262h1M338 263h1M338 265h1M338 266h1M338 267h1M338 269h1M338 270h1M338 273h1M338 274h1M338 275h1M338 276h1M339 243h1M339 246h1M339 248h1M339 249h1M339 250h1M339 251h1M339 252h1M339 255h1M339 256h1M339 257h1M339 259h1M339 263h1M339 266h1M339 268h1M339 269h1M339 270h1M340 239h1M340 240h1M340 242h1M340 243h1M340 244h1M340 248h1M340 250h1M340 251h1M340 252h1M340 254h1M340 256h1M340 257h1M340 258h1M340 260h1M340 261h1M340 263h1M340 266h1M340 268h1M341 233h1M341 235h1M341 236h1M341 238h1M341 240h1M341 243h1M341 244h1M341 247h1M341 250h1M341 251h1M341 252h1M341 255h1M341 257h1M341 259h1M341 262h1M341 263h1M342 229h1M342 233h1M342 235h1M342 236h1M342 238h1M342 240h1M342 241h1M342 249h1M342 250h1M342 251h1M342 253h1M342 254h1M342 255h1M342 257h1M342 258h1M342 259h1M342 261h1M342 262h1M343 223h1M343 225h1M343 226h1M343 227h1M343 228h1M343 230h1M343 231h1M343 235h1M343 236h1M343 240h1M343 244h1M343 245h1M343 248h1M343 249h1M343 250h1M343 253h1M343 255h1M343 262h1M344 218h1M344 219h1M344 220h1M344 221h1M344 222h1M344 223h1M344 224h1M344 226h1M344 227h1M344 230h1M344 231h1M344 232h1M344 236h1M344 241h1M344 244h1M344 245h1M344 246h1M344 248h1M344 250h1M344 252h1M344 258h1M344 259h1M345 214h1M345 215h1M345 216h1M345 220h1M345 222h1M345 223h1M345 224h1M345 225h1M345 226h1M345 229h1M345 230h1M345 231h1M345 233h1M345 234h1M345 235h1M345 239h1M345 242h1M345 245h1M345 248h1M345 251h1M345 252h1M345 254h1M346 212h1M346 214h1M346 215h1M346 216h1M346 218h1M346 221h1M346 222h1M346 223h1M346 224h1M346 226h1M346 230h1M346 231h1M346 236h1M346 237h1M346 240h1M346 241h1M346 243h1M346 247h1M346 248h1M346 250h1M346 254h1M347 206h1M347 209h1M347 210h1M347 211h1M347 212h1M347 213h1M347 214h1M347 221h1M347 224h1M347 225h1M347 227h1M347 228h1M347 229h1M347 230h1M347 234h1M347 237h1M347 238h1M347 239h1M347 246h1M347 249h1M347 251h1M347 254h1M348 201h1M348 203h1M348 204h1M348 205h1M348 208h1M348 209h1M348 210h1M348 212h1M348 213h1M348 214h1M348 215h1M348 217h1M348 219h1M348 223h1M348 227h1M348 229h1M348 232h1M348 233h1M348 234h1M348 235h1M348 238h1M348 249h1M348 250h1M348 252h1M349 200h1M349 201h1M349 203h1M349 204h1M349 205h1M349 212h1M349 213h1M349 216h1M349 218h1M349 219h1M349 220h1M349 222h1M349 223h1M349 235h1M349 236h1M349 237h1M349 239h1M349 241h1M349 244h1M349 247h1M349 250h1M350 196h1M350 199h1M350 201h1M350 204h1M350 205h1M350 210h1M350 212h1M350 215h1M350 218h1M350 222h1M350 226h1M350 230h1M350 232h1M350 233h1M350 236h1M350 237h1M350 240h1M350 242h1M350 248h1M351 190h1M351 194h1M351 195h1M351 196h1M351 198h1M351 202h1M351 211h1M351 217h1M351 220h1M351 222h1M351 224h1M351 227h1M351 229h1M351 231h1M351 232h1M351 234h1M351 238h1M351 240h1M351 241h1M351 243h1M351 246h1M352 185h1M352 189h1M352 190h1M352 191h1M352 194h1M352 195h1M352 196h1M352 197h1M352 203h1M352 205h1M352 209h1M352 210h1M352 214h1M352 215h1M352 223h1M352 227h1M352 232h1M352 234h1M352 235h1M352 237h1M352 238h1M352 240h1M352 241h1M353 185h1M353 192h1M353 194h1M353 195h1M353 197h1M353 198h1M353 202h1M353 205h1M353 208h1M353 212h1M353 216h1M353 220h1M353 223h1M353 227h1M353 229h1M353 230h1M353 231h1M353 233h1M353 238h1M354 176h1M354 180h1M354 188h1M354 189h1M354 192h1M354 197h1M354 200h1M354 202h1M354 203h1M354 206h1M354 207h1M354 209h1M354 212h1M354 218h1M354 219h1M354 220h1M354 224h1M354 231h1M354 235h1M354 236h1M354 237h1M354 240h1M355 176h1M355 178h1M355 181h1M355 183h1M355 186h1M355 192h1M355 194h1M355 202h1M355 203h1M355 204h1M355 206h1M355 210h1M355 212h1M355 215h1M355 216h1M355 218h1M355 220h1M355 221h1M355 227h1M355 228h1M355 233h1M355 237h1M356 169h1M356 173h1M356 176h1M356 177h1M356 179h1M356 180h1M356 182h1M356 185h1M356 186h1M356 189h1M356 191h1M356 195h1M356 197h1M356 204h1M356 211h1M356 213h1M356 215h1M356 230h1M356 238h1M357 162h1M357 165h1M357 168h1M357 170h1M357 174h1M357 176h1M357 180h1M357 181h1M357 182h1M357 188h1M357 191h1M357 194h1M357 198h1M357 201h1M357 202h1M357 204h1M357 207h1M357 214h1M357 218h1M357 221h1M357 225h1M358 156h1M358 160h1M358 162h1M358 165h1M358 169h1M358 176h1M358 186h1M358 189h1M358 191h1M358 194h1M358 198h1M358 206h1M358 209h1M358 210h1M358 212h1M358 213h1M358 215h1M358 217h1M358 221h1M358 224h1M358 225h1M359 150h1M359 152h1M359 166h1M359 167h1M359 174h1M359 176h1M359 182h1M359 184h1M359 185h1M359 196h1M359 197h1M359 199h1M359 206h1M359 210h1M359 211h1M359 214h1M359 217h1M359 218h1M359 221h1M359 225h1M359 232h1M360 148h1M360 151h1M360 152h1M360 153h1M360 155h1M360 158h1M360 161h1M360 163h1M360 164h1M360 167h1M360 172h1M360 177h1M360 187h1M360 203h1M360 206h1M360 207h1M360 219h1M360 224h1M360 225h1M360 226h1M360 232h1M361 146h1M361 147h1M361 159h1M361 165h1M361 171h1M361 177h1M361 180h1M361 186h1M361 190h1M361 191h1M361 205h1M361 211h1M361 214h1M361 215h1M361 217h1M361 218h1M361 221h1M361 222h1M361 224h1M362 142h1M362 144h1M362 145h1M362 147h1M362 150h1M362 158h1M362 175h1M362 176h1M362 177h1M362 178h1M362 181h1M362 185h1M362 188h1M362 192h1M362 193h1M362 194h1M362 200h1M362 214h1M362 218h1M362 221h1M362 228h1M363 134h1M363 135h1M363 139h1M363 140h1M363 142h1M363 143h1M363 144h1M363 146h1M363 157h1M363 164h1M363 172h1M363 176h1M363 180h1M363 189h1M363 191h1M363 198h1M363 203h1M363 207h1M363 211h1M364 134h1M364 145h1M364 150h1M364 157h1M364 159h1M364 160h1M364 165h1M364 168h1M364 171h1M364 175h1M364 181h1M364 189h1M364 190h1M364 192h1M364 195h1M364 196h1M364 206h1M364 214h1M364 222h1M364 223h1M365 133h1M365 141h1M365 156h1M365 163h1M365 165h1M365 166h1M365 175h1M365 176h1M365 183h1M365 198h1M365 199h1M365 201h1M365 213h1M365 217h1M365 221h1M365 223h1M366 129h1M366 131h1M366 141h1M366 150h1M366 152h1M366 153h1M366 157h1M366 166h1M366 168h1M366 170h1M366 171h1M366 179h1M366 182h1M366 184h1M366 191h1M366 201h1M366 205h1M366 212h1M366 215h1M366 219h1M366 220h1M367 124h1M367 125h1M367 134h1M367 137h1M367 138h1M367 141h1M367 142h1M367 152h1M367 154h1M367 163h1M367 165h1M367 170h1M367 174h1M367 176h1M367 187h1M367 202h1M367 207h1M367 214h1M367 219h1M368 120h1M368 130h1M368 138h1M368 146h1M368 155h1M368 156h1M368 170h1M368 176h1M368 179h1M368 191h1M368 194h1M368 199h1M368 202h1M368 206h1M368 207h1M368 210h1M368 215h1M368 218h1M369 121h1M369 122h1M369 123h1M369 126h1M369 127h1M369 129h1M369 134h1M369 138h1M369 139h1M369 142h1M369 143h1M369 156h1M369 160h1M369 165h1M369 187h1M369 201h1M369 209h1M369 213h1M370 106h1M370 107h1M370 112h1M370 114h1M370 123h1M370 124h1M370 125h1M370 131h1M370 133h1M370 134h1M370 151h1M370 156h1M370 169h1M370 174h1M370 184h1M370 185h1M370 211h1M370 214h1M371 101h1M371 106h1M371 112h1M371 114h1M371 116h1M371 126h1M371 130h1M371 146h1M371 167h1M371 170h1M371 177h1M371 183h1M371 184h1M371 191h1M371 205h1M371 209h1M371 211h1M371 345h1M372 92h1M372 98h1M372 103h1M372 110h1M372 131h1M372 134h1M372 139h1M372 154h1M372 162h1M372 166h1M372 167h1M372 170h1M372 177h1M372 184h1M372 190h1M372 192h1M372 193h1M373 103h1M373 106h1M373 108h1M373 110h1M373 127h1M373 142h1M373 146h1M373 151h1M373 154h1M373 162h1M373 166h1M373 173h1M373 179h1M373 183h1M373 192h1M373 196h1M373 202h1M373 205h1M374 82h1M374 84h1M374 85h1M374 95h1M374 96h1M374 101h1M374 102h1M374 104h1M374 113h1M374 114h1M374 117h1M374 124h1M374 125h1M374 131h1M374 135h1M374 143h1M374 145h1M374 160h1M374 180h1M374 194h1M374 195h1M374 199h1M375 81h1M375 96h1M375 98h1M375 99h1M375 105h1M375 106h1M375 115h1M375 116h1M375 118h1M375 121h1M375 125h1M375 138h1M375 146h1M375 156h1M375 167h1M375 172h1M375 173h1M375 182h1M375 183h1M375 192h1M375 198h1M376 84h1M376 88h1M376 91h1M376 92h1M376 97h1M376 99h1M376 106h1M376 115h1M376 117h1M376 118h1M376 120h1M376 132h1M376 138h1M376 144h1M376 146h1M376 150h1M376 154h1M376 156h1M376 166h1M376 167h1M376 168h1M376 171h1M376 175h1M376 180h1M376 182h1M376 188h1M376 191h1M376 194h1M376 199h1M376 201h1M377 100h1M377 104h1M377 114h1M377 120h1M377 122h1M377 146h1M377 148h1M377 152h1M377 157h1M377 159h1M377 175h1M377 179h1M377 180h1M377 181h1M377 183h1M377 189h1M377 194h1M378 99h1M378 111h1M378 122h1M378 130h1M378 142h1M378 144h1M378 145h1M378 146h1M378 153h1M378 159h1M378 162h1M378 163h1M378 172h1M378 177h1M378 181h1M378 182h1M378 184h1M379 84h1M379 109h1M379 121h1M379 130h1M379 131h1M379 145h1M379 147h1M379 148h1M379 149h1M379 152h1M379 168h1M379 171h1M379 176h1M379 188h1M379 189h1M379 190h1M379 194h1M380 89h1M380 97h1M380 112h1M380 114h1M380 142h1M380 144h1M380 146h1M380 147h1M380 148h1M380 156h1M380 157h1M380 160h1M380 164h1M380 165h1M380 167h1M380 170h1M380 190h1M380 191h1M381 95h1M381 97h1M381 99h1M381 105h1M381 139h1M381 144h1M381 151h1M381 156h1M381 158h1M381 160h1M381 166h1M381 170h1M381 171h1M381 172h1M381 173h1M381 179h1M381 180h1M381 195h1M382 82h1M382 88h1M382 89h1M382 110h1M382 142h1M382 143h1M382 149h1M382 153h1M382 157h1M382 158h1M382 160h1M382 169h1M382 173h1M382 175h1M382 177h1M382 179h1M382 186h1M383 115h1M383 117h1M383 131h1M383 139h1M383 142h1M383 143h1M383 147h1M383 152h1M383 159h1M383 161h1M383 168h1M383 173h1M383 180h1M383 183h1M383 184h1M383 193h1M384 85h1M384 98h1M384 102h1M384 103h1M384 107h1M384 142h1M384 152h1M384 159h1M384 161h1M384 164h1M384 172h1M384 175h1M384 192h1M385 93h1M385 103h1M385 105h1M385 109h1M385 143h1M385 147h1M385 153h1M385 157h1M385 159h1M385 168h1M385 173h1M385 176h1M385 179h1M385 181h1M385 186h1M385 189h1M385 190h1M386 82h1M386 92h1M386 104h1M386 111h1M386 119h1M386 139h1M386 141h1M386 145h1M386 152h1M386 159h1M386 162h1M386 163h1M386 167h1M386 180h1M386 181h1M386 187h1M386 188h1M387 92h1M387 107h1M387 118h1M387 123h1M387 135h1M387 138h1M387 139h1M387 140h1M387 141h1M387 143h1M387 146h1M387 147h1M387 150h1M387 154h1M387 155h1M387 169h1M387 183h1M387 185h1M387 187h1M388 92h1M388 94h1M388 96h1M388 122h1M388 138h1M388 141h1M388 143h1M388 147h1M388 151h1M388 155h1M388 157h1M388 160h1M388 168h1M388 176h1M388 182h1M389 96h1M389 117h1M389 119h1M389 127h1M389 139h1M389 142h1M389 150h1M389 151h1M389 158h1M389 167h1M389 168h1M389 177h1M389 179h1M389 182h1M389 184h1M389 188h1M390 94h1M390 99h1M390 104h1M390 126h1M390 138h1M390 139h1M390 147h1M390 148h1M390 149h1M390 150h1M390 151h1M390 153h1M390 174h1M390 178h1M390 182h1M390 185h1M391 95h1M391 108h1M391 120h1M391 128h1M391 135h1M391 141h1M391 144h1M391 148h1M391 151h1M391 156h1M391 157h1M391 163h1M391 164h1M391 168h1M391 169h1M391 174h1M391 179h1M391 184h1M392 80h1M392 82h1M392 83h1M392 95h1M392 136h1M392 138h1M392 139h1M392 143h1M392 145h1M392 156h1M392 157h1M392 171h1M392 173h1M392 177h1M393 92h1M393 117h1M393 118h1M393 129h1M393 134h1M393 135h1M393 136h1M393 137h1M393 138h1M393 139h1M393 144h1M393 145h1M393 155h1M393 158h1M393 170h1M393 181h1M393 184h1M394 84h1M394 93h1M394 106h1M394 129h1M394 139h1M394 144h1M394 149h1M394 150h1M394 159h1M394 160h1M394 161h1M394 162h1M394 166h1M394 168h1M394 174h1M394 176h1M394 177h1M394 183h1M395 89h1M395 107h1M395 113h1M395 118h1M395 135h1M395 136h1M395 141h1M395 144h1M395 147h1M395 155h1M395 156h1M395 159h1M395 166h1M395 172h1M395 173h1M395 179h1M396 82h1M396 85h1M396 95h1M396 119h1M396 133h1M396 139h1M396 141h1M396 145h1M396 151h1M396 153h1M396 155h1M396 158h1M396 169h1M396 170h1M396 178h1M397 86h1M397 103h1M397 114h1M397 119h1M397 133h1M397 135h1M397 136h1M397 140h1M397 144h1M397 147h1M397 148h1M397 153h1M397 164h1M397 169h1M397 172h1M397 174h1M398 105h1M398 110h1M398 112h1M398 134h1M398 146h1M398 147h1M398 149h1M398 152h1M398 156h1M398 162h1M398 168h1M398 172h1M398 176h1M398 179h1M399 90h1M399 107h1M399 116h1M399 120h1M399 130h1M399 131h1M399 144h1M399 148h1M399 149h1M399 154h1M399 158h1M399 164h1M399 167h1M399 171h1M399 254h1M400 98h1M400 126h1M400 133h1M400 135h1M400 140h1M400 145h1M400 146h1M400 150h1M400 159h1M400 169h1M400 175h1M400 176h1M400 182h1M401 80h1M401 110h1M401 136h1M401 137h1M401 139h1M401 143h1M401 145h1M401 148h1M401 149h1M401 163h1M401 167h1M401 168h1M401 169h1M401 175h1M401 177h1M401 180h1M402 103h1M402 110h1M402 116h1M402 126h1M402 132h1M402 133h1M402 135h1M402 137h1M402 144h1M402 145h1M402 146h1M402 153h1M402 158h1M402 162h1M402 177h1M403 82h1M403 107h1M403 123h1M403 125h1M403 131h1M403 133h1M403 139h1M403 148h1M403 154h1M403 156h1M403 161h1M403 165h1M403 173h1M403 177h1M404 81h1M404 84h1M404 125h1M404 135h1M404 141h1M404 146h1M404 151h1M404 152h1M404 154h1M404 157h1M404 161h1M404 163h1M404 168h1M404 169h1M404 173h1M404 176h1M405 81h1M405 96h1M405 123h1M405 132h1M405 133h1M405 134h1M405 138h1M405 144h1M405 145h1M405 148h1M405 155h1M405 158h1M405 159h1M405 161h1M405 165h1M405 169h1M405 179h1M406 89h1M406 119h1M406 126h1M406 127h1M406 130h1M406 139h1M406 143h1M406 144h1M406 149h1M406 154h1M406 155h1M406 165h1M406 173h1M406 174h1M407 82h1M407 119h1M407 120h1M407 127h1M407 129h1M407 135h1M407 138h1M407 141h1M407 149h1M407 163h1M407 169h1M407 171h1M407 172h1M407 174h1M407 176h1M408 83h1M408 120h1M408 124h1M408 128h1M408 129h1M408 130h1M408 135h1M408 146h1M408 149h1M408 156h1M408 157h1M408 160h1M408 174h1M408 176h1M409 95h1M409 118h1M409 128h1M409 135h1M409 138h1M409 141h1M409 144h1M409 145h1M409 147h1M409 148h1M409 159h1M409 161h1M409 166h1M409 171h1M410 88h1M410 89h1M410 118h1M410 124h1M410 136h1M410 144h1M410 145h1M410 148h1M410 152h1M410 158h1M410 165h1M410 167h1M410 177h1M411 85h1M411 121h1M411 126h1M411 130h1M411 134h1M411 135h1M411 137h1M411 139h1M411 145h1M411 156h1M411 157h1M411 163h1M411 175h1M411 176h1M411 177h1M412 82h1M412 92h1M412 122h1M412 129h1M412 132h1M412 135h1M412 139h1M412 143h1M412 151h1M412 159h1M412 162h1M412 170h1M413 86h1M413 91h1M413 123h1M413 124h1M413 126h1M413 134h1M413 136h1M413 140h1M413 141h1M413 143h1M413 151h1M413 152h1M413 153h1M413 155h1M413 168h1M413 172h1M413 174h1M414 85h1M414 121h1M414 126h1M414 127h1M414 131h1M414 143h1M414 153h1M414 155h1M414 161h1M414 162h1M414 165h1M414 168h1M414 170h1M414 173h1M415 90h1M415 126h1M415 127h1M415 129h1M415 131h1M415 132h1M415 134h1M415 136h1M415 145h1M415 146h1M415 149h1M415 157h1M415 160h1M415 172h1M415 176h1M415 179h1M416 80h1M416 85h1M416 122h1M416 127h1M416 132h1M416 135h1M416 140h1M416 143h1M416 144h1M416 147h1M416 157h1M416 161h1M416 163h1M416 167h1M416 171h1M417 93h1M417 94h1M417 121h1M417 124h1M417 131h1M417 133h1M417 134h1M417 145h1M417 147h1M417 153h1M417 156h1M417 161h1M417 165h1M417 167h1M418 95h1M418 120h1M418 127h1M418 128h1M418 129h1M418 130h1M418 132h1M418 135h1M418 138h1M418 144h1M418 145h1M418 151h1M418 158h1M418 165h1M418 172h1M419 80h1M419 87h1M419 121h1M419 128h1M419 129h1M419 133h1M419 134h1M419 135h1M419 148h1M419 150h1M419 152h1M419 159h1M419 160h1M419 163h1M419 165h1M419 167h1M420 120h1M420 130h1M420 136h1M420 139h1M420 141h1M420 151h1M420 156h1M420 160h1M420 165h1M420 166h1M420 168h1M420 173h1M420 177h1M420 178h1M420 179h1M421 81h1M421 83h1M421 87h1M421 108h1M421 117h1M421 119h1M421 127h1M421 130h1M421 131h1M421 134h1M421 137h1M421 138h1M421 153h1M421 154h1M421 155h1M421 159h1M421 161h1M421 169h1M421 170h1M421 173h1M422 104h1M422 110h1M422 128h1M422 130h1M422 131h1M422 132h1M422 149h1M422 165h1M422 166h1M422 167h1M422 171h1M422 174h1M422 175h1M422 178h1M422 179h1M423 85h1M423 96h1M423 120h1M423 126h1M423 131h1M423 135h1M423 136h1M423 144h1M423 146h1M423 152h1M423 160h1M423 161h1M423 164h1M423 170h1M423 172h1M423 178h1M424 90h1M424 92h1M424 100h1M424 104h1M424 130h1M424 141h1M424 143h1M424 147h1M424 149h1M424 155h1M424 162h1M424 168h1M424 169h1M424 174h1M424 179h1M425 80h1M425 82h1M425 93h1M425 107h1M425 131h1M425 132h1M425 135h1M425 138h1M425 141h1M425 144h1M425 154h1M425 160h1M425 161h1M425 164h1M425 169h1M425 177h1M426 90h1M426 99h1M426 127h1M426 130h1M426 131h1M426 134h1M426 135h1M426 138h1M426 145h1M426 156h1M426 158h1M426 159h1M426 160h1M426 166h1M426 167h1M426 178h1M427 103h1M427 116h1M427 121h1M427 123h1M427 132h1M427 133h1M427 136h1M427 137h1M427 140h1M427 146h1M427 151h1M427 163h1M427 165h1M427 168h1M427 173h1M427 176h1M428 103h1M428 108h1M428 109h1M428 128h1M428 131h1M428 132h1M428 137h1M428 139h1M428 147h1M428 152h1M428 155h1M428 160h1M428 161h1M428 168h1M428 174h1M429 89h1M429 90h1M429 101h1M429 102h1M429 132h1M429 137h1M429 139h1M429 143h1M429 145h1M429 147h1M429 151h1M429 152h1M429 157h1M429 161h1M429 162h1M429 164h1M429 168h1M429 180h1M430 91h1M430 94h1M430 96h1M430 119h1M430 133h1M430 136h1M430 137h1M430 146h1M430 148h1M430 153h1M430 157h1M430 160h1M430 167h1M430 168h1M430 174h1M430 180h1M431 116h1M431 126h1M431 127h1M431 128h1M431 133h1M431 137h1M431 138h1M431 139h1M431 143h1M431 145h1M431 162h1M431 163h1M431 170h1M431 177h1M431 179h1M431 180h1M431 181h1M432 88h1M432 116h1M432 126h1M432 131h1M432 134h1M432 138h1M432 140h1M432 142h1M432 151h1M432 152h1M432 153h1M432 157h1M432 159h1M432 176h1M432 177h1M432 180h1M433 100h1M433 110h1M433 119h1M433 132h1M433 134h1M433 136h1M433 139h1M433 146h1M433 153h1M433 158h1M433 160h1M433 161h1M433 164h1M433 166h1M433 173h1M433 176h1M433 177h1M434 90h1M434 121h1M434 123h1M434 130h1M434 135h1M434 140h1M434 144h1M434 146h1M434 149h1M434 156h1M434 173h1M434 175h1M434 177h1M434 179h1M434 180h1M434 182h1M435 88h1M435 101h1M435 128h1M435 131h1M435 137h1M435 140h1M435 143h1M435 145h1M435 150h1M435 151h1M435 153h1M435 157h1M435 164h1M435 167h1M435 184h1M436 84h1M436 85h1M436 89h1M436 121h1M436 134h1M436 135h1M436 138h1M436 140h1M436 142h1M436 146h1M436 150h1M436 159h1M436 165h1M436 166h1M436 168h1M437 112h1M437 113h1M437 115h1M437 123h1M437 136h1M437 137h1M437 140h1M437 147h1M437 154h1M437 160h1M437 161h1M437 163h1M437 167h1M437 173h1M437 178h1M437 184h1M438 80h1M438 100h1M438 106h1M438 131h1M438 138h1M438 141h1M438 143h1M438 149h1M438 151h1M438 156h1M438 162h1M438 173h1M438 182h1M438 183h1M439 86h1M439 87h1M439 95h1M439 109h1M439 140h1M439 147h1M439 153h1M439 162h1M439 163h1M439 165h1M439 174h1M439 176h1M439 178h1M439 179h1M439 186h1M440 91h1M440 97h1M440 103h1M440 121h1M440 143h1M440 145h1M440 147h1M440 152h1M440 154h1M440 155h1M440 161h1M440 172h1M440 179h1M440 183h1M440 185h1M440 358h1M441 86h1M441 94h1M441 137h1M441 138h1M441 140h1M441 145h1M441 150h1M441 154h1M441 156h1M441 158h1M441 162h1M441 164h1M441 175h1M441 176h1M441 177h1M441 182h1M441 183h1M442 106h1M442 117h1M442 129h1M442 141h1M442 148h1M442 149h1M442 157h1M442 158h1M442 159h1M442 160h1M442 165h1M442 167h1M442 171h1M442 172h1M442 174h1M442 186h1M442 192h1M443 94h1M443 99h1M443 126h1M443 127h1M443 129h1M443 150h1M443 152h1M443 153h1M443 157h1M443 159h1M443 163h1M443 169h1M443 170h1M443 173h1M443 174h1M443 175h1M443 190h1M443 193h1M444 92h1M444 96h1M444 100h1M444 103h1M444 154h1M444 159h1M444 169h1M444 170h1M444 174h1M444 176h1M444 177h1M444 178h1M444 188h1M444 189h1M445 80h1M445 128h1M445 141h1M445 142h1M445 145h1M445 153h1M445 162h1M445 163h1M445 164h1M445 166h1M445 174h1M445 177h1M445 179h1M445 190h1M445 191h1M445 192h1M445 195h1M446 94h1M446 101h1M446 106h1M446 110h1M446 113h1M446 115h1M446 117h1M446 129h1M446 148h1M446 150h1M446 151h1M446 153h1M446 159h1M446 160h1M446 161h1M446 165h1M446 172h1M446 174h1M446 178h1M446 179h1M446 182h1M446 186h1M446 190h1M446 195h1M446 198h1M447 100h1M447 104h1M447 105h1M447 106h1M447 116h1M447 119h1M447 123h1M447 164h1M447 165h1M447 170h1M447 174h1M447 175h1M447 176h1M447 178h1M447 182h1M447 183h1M447 188h1M447 189h1M447 194h1M447 196h1M447 199h1M447 203h1M448 124h1M448 126h1M448 130h1M448 132h1M448 136h1M448 144h1M448 150h1M448 156h1M448 158h1M448 159h1M448 162h1M448 164h1M448 169h1M448 170h1M448 171h1M448 172h1M448 174h1M448 176h1M448 177h1M448 180h1M448 182h1M448 183h1M448 185h1M448 194h1M448 204h1M449 124h1M449 125h1M449 128h1M449 133h1M449 140h1M449 144h1M449 145h1M449 148h1M449 166h1M449 167h1M449 169h1M449 174h1M449 181h1M449 186h1M449 190h1M449 200h1M450 126h1M450 130h1M450 133h1M450 141h1M450 144h1M450 148h1M450 150h1M450 155h1M450 161h1M450 162h1M450 168h1M450 171h1M450 181h1M450 189h1M450 192h1M450 195h1M450 199h1M450 206h1M450 208h1M451 128h1M451 132h1M451 135h1M451 137h1M451 141h1M451 144h1M451 145h1M451 153h1M451 161h1M451 164h1M451 173h1M451 174h1M451 179h1M451 183h1M451 187h1M451 191h1M451 196h1M451 203h1M451 209h1M452 132h1M452 137h1M452 138h1M452 139h1M452 142h1M452 153h1M452 157h1M452 158h1M452 171h1M452 174h1M452 175h1M452 177h1M452 179h1M452 180h1M452 181h1M452 210h1M452 211h1M453 136h1M453 138h1M453 141h1M453 157h1M453 158h1M453 171h1M453 172h1M453 173h1M453 181h1M453 188h1M453 189h1M453 190h1M453 194h1M453 200h1M453 201h1M453 202h1M453 210h1M454 138h1M454 140h1M454 141h1M454 142h1M454 143h1M454 147h1M454 158h1M454 165h1M454 168h1M454 177h1M454 182h1M454 187h1M454 192h1M454 198h1M454 204h1M454 206h1M454 210h1M454 213h1M455 143h1M455 145h1M455 147h1M455 148h1M455 149h1M455 156h1M455 157h1M455 159h1M455 163h1M455 167h1M455 171h1M455 182h1M455 183h1M455 193h1M455 195h1M455 199h1M455 202h1M455 206h1M455 208h1M456 151h1M456 152h1M456 153h1M456 158h1M456 159h1M456 161h1M456 162h1M456 165h1M456 168h1M456 170h1M456 171h1M456 174h1M456 181h1M456 190h1M456 195h1M456 196h1M456 197h1M456 199h1M456 201h1M456 210h1M457 150h1M457 153h1M457 155h1M457 165h1M457 168h1M457 170h1M457 171h1M457 174h1M457 180h1M457 190h1M457 192h1M457 195h1M457 197h1M457 200h1M457 206h1M457 211h1M457 214h1M458 155h1M458 156h1M458 159h1M458 163h1M458 166h1M458 167h1M458 169h1M458 171h1M458 177h1M458 178h1M458 191h1M458 194h1M458 196h1M458 197h1M458 199h1M458 201h1M458 208h1M458 214h1M459 158h1M459 161h1M459 162h1M459 163h1M459 166h1M459 174h1M459 175h1M459 177h1M459 178h1M459 180h1M459 181h1M459 183h1M459 186h1M459 190h1M459 194h1M459 201h1M459 207h1M459 211h1M459 218h1M460 162h1M460 163h1M460 168h1M460 170h1M460 173h1M460 175h1M460 180h1M460 184h1M460 186h1M460 187h1M460 189h1M460 190h1M460 196h1M460 199h1M460 201h1M460 209h1M460 211h1M460 217h1M460 221h1M460 224h1M461 167h1M461 168h1M461 169h1M461 170h1M461 172h1M461 175h1M461 181h1M461 182h1M461 183h1M461 187h1M461 191h1M461 198h1M461 200h1M461 204h1M461 210h1M461 220h1M461 222h1M461 225h1M462 174h1M462 175h1M462 176h1M462 178h1M462 182h1M462 186h1M462 188h1M462 191h1M462 196h1M462 197h1M462 198h1M462 202h1M462 206h1M462 208h1M462 211h1M462 213h1M462 216h1M462 220h1M462 221h1M462 222h1M462 230h1M463 177h1M463 178h1M463 180h1M463 181h1M463 182h1M463 184h1M463 188h1M463 190h1M463 193h1M463 196h1M463 198h1M463 199h1M463 200h1M463 201h1M463 210h1M463 214h1M463 218h1M463 222h1M463 223h1M463 224h1M463 228h1M464 190h1M464 192h1M464 194h1M464 197h1M464 203h1M464 205h1M464 206h1M464 207h1M464 208h1M464 212h1M464 213h1M464 214h1M464 216h1M464 217h1M464 218h1M464 224h1M464 225h1M464 229h1M464 231h1M464 233h1M464 234h1M465 189h1M465 194h1M465 195h1M465 196h1M465 199h1M465 203h1M465 208h1M465 209h1M465 210h1M465 214h1M465 215h1M465 220h1M465 221h1M465 223h1M465 226h1M465 227h1M465 232h1M465 233h1M466 192h1M466 194h1M466 195h1M466 198h1M466 199h1M466 200h1M466 203h1M466 205h1M466 207h1M466 208h1M466 209h1M466 211h1M466 212h1M466 213h1M466 215h1M466 216h1M466 222h1M466 227h1M466 228h1M466 233h1M467 195h1M467 201h1M467 213h1M467 214h1M467 215h1M467 217h1M467 218h1M467 219h1M467 220h1M467 221h1M467 223h1M467 225h1M467 226h1M467 228h1M467 229h1M467 234h1M467 235h1M467 237h1M467 238h1M468 200h1M468 201h1M468 202h1M468 205h1M468 206h1M468 209h1M468 210h1M468 211h1M468 213h1M468 216h1M468 217h1M468 222h1M468 224h1M468 228h1M468 229h1M468 230h1M468 231h1M468 235h1M468 238h1M468 242h1M468 314h1M469 204h1M469 207h1M469 208h1M469 209h1M469 210h1M469 212h1M469 213h1M469 217h1M469 219h1M469 221h1M469 227h1M469 228h1M469 229h1M469 231h1M469 232h1M469 233h1M469 242h1M469 243h1M469 244h1M470 209h1M470 211h1M470 214h1M470 215h1M470 217h1M470 219h1M470 220h1M470 222h1M470 227h1M470 229h1M470 230h1M470 231h1M470 236h1M470 239h1M470 240h1M470 242h1M470 245h1M471 213h1M471 214h1M471 215h1M471 218h1M471 219h1M471 222h1M471 223h1M471 224h1M471 225h1M471 226h1M471 228h1M471 229h1M471 230h1M471 231h1M471 234h1M471 235h1M471 241h1M471 243h1M471 244h1M471 247h1M471 248h1M472 216h1M472 217h1M472 219h1M472 220h1M472 221h1M472 222h1M472 223h1M472 225h1M472 227h1M472 228h1M472 230h1M472 231h1M472 233h1M472 234h1M472 235h1M472 236h1M472 237h1M472 238h1M472 239h1M472 241h1M472 243h1M472 244h1M472 246h1M472 249h1M473 219h1M473 220h1M473 221h1M473 222h1M473 228h1M473 229h1M473 230h1M473 235h1M473 236h1M473 237h1M473 239h1M473 240h1M473 241h1M473 243h1M473 245h1M473 246h1M473 247h1M473 248h1M473 251h1M474 223h1M474 225h1M474 228h1M474 229h1M474 230h1M474 231h1M474 232h1M474 235h1M474 238h1M474 239h1M474 241h1M474 242h1M474 245h1M474 248h1M474 249h1M474 250h1M474 253h1M475 227h1M475 229h1M475 230h1M475 231h1M475 233h1M475 234h1M475 236h1M475 239h1M475 240h1M475 241h1M475 242h1M475 246h1M475 249h1M475 252h1M475 253h1M475 254h1M475 255h1M475 256h1M476 230h1M476 231h1M476 232h1M476 233h1M476 237h1M476 238h1M476 239h1M476 242h1M476 243h1M476 244h1M476 245h1M476 246h1M476 247h1M476 250h1M476 251h1M476 252h1M476 253h1M476 255h1M476 257h1M477 234h1M477 235h1M477 236h1M477 238h1M477 239h1M477 240h1M477 242h1M477 243h1M477 244h1M477 245h1M477 246h1M477 249h1M477 250h1M477 251h1M477 252h1M477 253h1M477 254h1M477 256h1M477 257h1M477 258h1M478 236h1M478 237h1M478 239h1M478 240h1M478 241h1M478 243h1M478 246h1M478 248h1M478 249h1M478 251h1M478 252h1M478 253h1M478 254h1M478 258h1M478 259h1M478 261h1M478 263h1M479 239h1M479 241h1M479 243h1M479 245h1M479 248h1M479 249h1M479 250h1M479 251h1M479 254h1M479 256h1M479 258h1M479 259h1M479 261h1M479 262h1M479 263h1M480 240h1M480 241h1M480 243h1M480 245h1M480 246h1M480 248h1M480 250h1M480 253h1M480 254h1M480 256h1M480 257h1M480 258h1M480 259h1M480 262h1M480 265h1M480 266h1M480 267h1M480 268h1M481 244h1M481 245h1M481 248h1M481 249h1M481 250h1M481 251h1M481 252h1M481 253h1M481 255h1M481 257h1M481 258h1M481 260h1M481 261h1M481 262h1M481 263h1M481 264h1M481 265h1M481 267h1M481 270h1M482 248h1M482 249h1M482 250h1M482 251h1M482 252h1M482 253h1M482 254h1M482 255h1M482 257h1M482 258h1M482 259h1M482 261h1M482 265h1M482 267h1M482 270h1M482 271h1M482 272h1M482 273h1M483 252h1M483 253h1M483 254h1M483 255h1M483 256h1M483 257h1M483 258h1M483 259h1M483 261h1M483 262h1M483 263h1M483 264h1M483 267h1M483 268h1M483 269h1M483 271h1M483 272h1M483 275h1M484 257h1M484 258h1M484 259h1M484 260h1M484 261h1M484 262h1M484 263h1M484 266h1M484 267h1M484 268h1M484 271h1M484 272h1M484 275h1M484 278h1M485 260h1M485 261h1M485 265h1M485 266h1M485 267h1M485 269h1M485 271h1M485 273h1M485 274h1M485 276h1M485 277h1M485 278h1M485 280h1M486 265h1M486 266h1M486 267h1M486 268h1M486 269h1M486 271h1M486 272h1M486 274h1M486 276h1M486 277h1M486 278h1M486 281h1M486 282h1M486 283h1M486 284h1M487 268h1M487 269h1M487 271h1M487 272h1M487 273h1M487 274h1M487 276h1M487 278h1M487 279h1M487 280h1M487 283h1M487 284h1M487 286h1M487 287h1M488 271h1M488 272h1M488 273h1M488 275h1M488 276h1M488 279h1M488 280h1M488 282h1M488 285h1M488 287h1M488 288h1M488 289h1M489 273h1M489 274h1M489 275h1M489 276h1M489 278h1M489 279h1M489 280h1M489 281h1M489 282h1M489 283h1M489 286h1M489 287h1M489 288h1M489 290h1M489 291h1M490 275h1M490 277h1M490 278h1M490 279h1M490 280h1M490 281h1M490 282h1M490 285h1M490 286h1M490 287h1M490 290h1M490 293h1M490 294h1M491 277h1M491 278h1M491 279h1M491 280h1M491 281h1M491 282h1M491 283h1M491 284h1M491 285h1M491 286h1M491 289h1M491 290h1M491 291h1M491 292h1M491 295h1M491 296h1M492 280h1M492 281h1M492 282h1M492 284h1M492 285h1M492 286h1M492 287h1M492 288h1M492 289h1M492 290h1M492 291h1M492 292h1M492 293h1M492 295h1M492 296h1M492 297h1M492 298h1M492 299h1M492 300h1M492 302h1M493 282h1M493 283h1M493 285h1M493 286h1M493 287h1M493 289h1M493 292h1M493 294h1M493 296h1M493 298h1M493 299h1M493 300h1M493 302h1M493 305h1M493 306h1M493 308h1M494 284h1M494 285h1M494 286h1M494 287h1M494 289h1M494 290h1M494 292h1M494 294h1M494 296h1M494 298h1M494 300h1M494 301h1M494 302h1M494 304h1M494 306h1M494 307h1M494 309h1M494 311h1M494 312h1M495 286h1M495 287h1M495 292h1M495 293h1M495 295h1M495 296h1M495 298h1M495 299h1M495 300h1M495 301h1M495 304h1M495 305h1M495 306h1M495 307h1M495 309h1M495 311h1M495 313h1M495 317h1M496 290h1M496 291h1M496 293h1M496 294h1M496 296h1M496 297h1M496 298h1M496 299h1M496 300h1M496 301h1M496 302h1M496 303h1M496 304h1M496 305h1M496 306h1M496 307h1M496 309h1M496 312h1M496 315h1M496 316h1M496 317h1M496 319h1M497 291h1M497 293h1M497 295h1M497 296h1M497 297h1M497 299h1M497 300h1M497 302h1M497 304h1M497 309h1M497 310h1M497 311h1M497 312h1M497 316h1M497 317h1M497 318h1M497 319h1M497 320h1M498 294h1M498 295h1M498 296h1M498 297h1M498 298h1M498 300h1M498 301h1M498 302h1M498 303h1M498 304h1M498 305h1M498 307h1M498 309h1M498 310h1M498 311h1M498 312h1M498 313h1M498 314h1M498 316h1M498 317h1M498 320h1M499 297h1M499 299h1M499 300h1M499 301h1M499 302h1M499 303h1M499 304h1M499 305h1M499 306h1M499 308h1M499 310h1M499 311h1M499 312h1M499 313h1M499 316h1M499 317h1M499 318h1M499 319h1M499 320h1M499 322h1M500 299h1M500 300h1M500 302h1M500 303h1M500 304h1M500 305h1M500 306h1M500 307h1M500 308h1M500 310h1M500 311h1M500 312h1M500 313h1M500 314h1M500 315h1M500 316h1M500 318h1M500 319h1M500 320h1M500 322h1M500 323h1M501 302h1M501 303h1M501 304h1M501 305h1M501 306h1M501 307h1M501 309h1M501 310h1M501 311h1M501 312h1M501 313h1M501 314h1M501 315h1M501 316h1M501 320h1M501 323h1M501 324h1M501 325h1M501 326h1M502 305h1M502 306h1M502 307h1M502 308h1M502 309h1M502 310h1M502 312h1M502 313h1M502 314h1M502 316h1M502 319h1M502 321h1M502 322h1M502 325h1M502 326h1M502 327h1M502 328h1M502 329h1M503 308h1M503 309h1M503 310h1M503 311h1M503 312h1M503 313h1M503 315h1M503 316h1M503 317h1M503 319h1M503 320h1M503 321h1M503 322h1M503 323h1M503 325h1M503 326h1M503 327h1M503 328h1M503 329h1M503 330h1M503 331h1M503 332h1M503 333h1M503 334h1M503 335h1M503 336h1M504 327h1M504 328h1M504 330h1M504 331h1M504 332h1M504 333h1M504 334h1M504 335h1M504 336h1M504 337h1M504 338h1M505 329h1M505 330h1M505 331h1M505 332h1M505 334h1M505 335h1M505 336h1M505 337h1M505 338h1M505 339h1M506 330h1M506 331h1M506 333h1M506 334h1M506 335h1M506 336h1M506 337h1M506 338h1M506 339h1M506 340h1M506 341h1M506 342h1M507 333h1M507 335h1M507 336h1M507 337h1M507 338h1M507 339h1M507 340h1M507 341h1M507 342h1M507 343h1M507 344h1M508 334h1M508 335h1M508 336h1M508 337h1M508 338h1M508 339h1M508 340h1M508 341h1M508 342h1M508 343h1M508 344h1M508 345h1M508 346h1M509 337h1M509 338h1M509 339h1M509 340h1M509 341h1M509 342h1M509 343h1M509 344h1M509 345h1M509 346h1M509 347h1M509 348h1M510 338h1M510 340h1M510 341h1M510 342h1M510 343h1M510 344h1M510 345h1M510 346h1M510 347h1M510 348h1M510 349h1M510 350h1M511 342h1M511 343h1M511 344h1M511 345h1M511 346h1M511 347h1M511 348h1M511 349h1M511 350h1M511 351h1M512 344h1M512 345h1M512 346h1M512 348h1M512 349h1M512 350h1M512 351h1M513 347h1M513 349h1M513 350h1M513 352h1M513 353h1M513 354h1M514 349h1M514 350h1M514 351h1M514 353h1M514 354h1M514 356h1M515 352h1M515 353h1M515 354h1M515 355h1M515 357h1M515 358h1M516 354h1M516 355h1M516 356h1M516 357h1M516 358h1M516 359h1M517 356h1M517 357h1M517 358h1M517 359h1M517 360h1M517 361h1M518 358h1M518 359h1M518 360h1M518 361h1M518 362h1M518 363h1M519 360h1M519 361h1M519 362h1M519 363h1M519 364h1M519 365h1M520 363h1M520 364h1M520 365h1M520 366h1M521 364h1M521 365h1M521 366h1M521 367h1M521 368h1M521 369h1M522 366h1M522 367h1M522 368h1M522 369h1M522 370h1M523 369h1M523 370h1M523 371h1M523 372h1M524 370h1M524 371h1M524 372h1M524 373h1M524 374h1M525 372h1M525 373h1M525 374h1M525 375h1M526 374h1M526 375h1M526 376h1M526 377h1M527 375h1M527 376h1M527 377h1M527 378h1M528 377h1M528 379h1M528 380h1M542 377h1M542 378h1M542 379h1M542 380h1M543 375h1M543 376h1M543 377h1M543 378h1M544 374h1M544 375h1M544 376h1M544 377h1M545 372h1M545 373h1M545 374h1M545 375h1M545 376h1M546 370h1M546 371h1M546 372h1M546 373h1M546 374h1M547 368h1M547 369h1M547 370h1M547 371h1M547 372h1M548 366h1M548 367h1M548 368h1M548 369h1M548 370h1M548 371h1M549 364h1M549 365h1M549 366h1M549 367h1M549 368h1M549 369h1M550 361h1M550 362h1M550 363h1M550 364h1M550 365h1M550 366h1M550 367h1M551 358h1M551 359h1M551 360h1M551 361h1M551 363h1M551 364h1M551 365h1M552 356h1M552 357h1M552 358h1M552 359h1M552 360h1M552 361h1M552 362h1M552 363h1M553 353h1M553 354h1M553 356h1M553 357h1M553 358h1M553 359h1M553 360h1M553 361h1M553 362h1M554 351h1M554 352h1M554 353h1M554 354h1M554 355h1M554 356h1M554 358h1M554 359h1M554 360h1M555 350h1M555 351h1M555 352h1M555 353h1M555 354h1M555 355h1M555 356h1M555 357h1M555 358h1M556 348h1M556 349h1M556 350h1M556 351h1M556 352h1M556 353h1M556 354h1M556 355h1M556 356h1M556 357h1M557 347h1M557 348h1M557 349h1M557 350h1M557 351h1M557 352h1M557 353h1M557 354h1M557 355h1M558 346h1M558 347h1M558 348h1M558 349h1M558 350h1M558 351h1M558 352h1M558 353h1M558 354h1M559 344h1M559 345h1M559 346h1M559 347h1M559 348h1M559 349h1M559 350h1M559 351h1M559 352h1M560 342h1M560 343h1M560 344h1M560 345h1M560 346h1M560 347h1M560 348h1M560 349h1M560 350h1M560 351h1M561 340h1M561 341h1M561 342h1M561 343h1M561 344h1M561 345h1M561 346h1M561 347h1M561 349h1M562 339h1M562 340h1M562 341h1M562 342h1M562 343h1M562 344h1M562 345h1M562 347h1M563 338h1M563 341h1M563 343h1M563 344h1M563 345h1M564 325h1M564 326h1M564 327h1M564 332h1M564 333h1M564 334h1M564 335h1M564 336h1M564 337h1M565 300h1M565 303h1M565 305h1M565 307h1M565 313h1M565 317h1M565 329h1M566 285h1M566 289h1M566 290h1M566 291h1M566 294h1M566 295h1M566 306h1M567 263h1M567 266h1M567 267h1M567 268h1M567 269h1M567 270h1M567 272h1M567 274h1M567 277h1M567 278h1M567 279h1M567 280h1M567 281h1M567 282h1M567 286h1M567 290h1M567 294h1M568 237h1M568 243h1M568 245h1M568 247h1M568 252h1M568 257h1M568 260h1M568 262h1M568 264h1M568 265h1M568 266h1M568 268h1M568 270h1M568 334h1M569 227h1M569 229h1M569 233h1M569 238h1M569 240h1M569 245h1M569 246h1M569 247h1M569 248h1M569 250h1M570 222h1M570 225h1M570 226h1M570 227h1M570 233h1M570 235h1M570 264h1M570 265h1M570 267h1M570 268h1M570 270h1M570 271h1M570 273h1M570 275h1M570 276h1M570 277h1M570 279h1M570 282h1M571 257h1M571 259h1M571 260h1M571 262h1M571 263h1M571 264h1M571 265h1M571 266h1M571 268h1M571 270h1M571 273h1M571 279h1M572 250h1M572 252h1M572 253h1M572 255h1M572 256h1M572 258h1M572 259h1M572 261h1M572 262h1M572 263h1M572 264h1M572 265h1M572 272h1M572 275h1M572 276h1M572 277h1M573 249h1M573 250h1M573 251h1M573 252h1M573 253h1M573 258h1M573 259h1M573 260h1M573 261h1M573 262h1M573 263h1M573 268h1M573 269h1M573 271h1M573 273h1M573 274h1M573 275h1M574 250h1M574 251h1M574 252h1M574 259h1M574 260h1M574 261h1M574 263h1M574 264h1M574 265h1M574 267h1M574 269h1M574 270h1M574 271h1M574 275h1M575 246h1M575 247h1M575 249h1M575 250h1M575 253h1M575 256h1M575 257h1M575 259h1M575 260h1M575 262h1M575 263h1M575 264h1M575 266h1M575 267h1M575 268h1M575 270h1M575 271h1M575 272h1M575 274h1M575 283h1M576 241h1M576 244h1M576 245h1M576 247h1M576 248h1M576 250h1M576 251h1M576 253h1M576 256h1M576 257h1M576 258h1M576 262h1M576 263h1M576 266h1M576 269h1M576 270h1M577 239h1M577 242h1M577 245h1M577 247h1M577 249h1M577 250h1M577 251h1M577 252h1M577 253h1M577 255h1M577 261h1M577 264h1M577 266h1M577 269h1M577 271h1M577 274h1M578 239h1M578 240h1M578 243h1M578 244h1M578 246h1M578 249h1M578 252h1M578 261h1M578 265h1M578 266h1M578 269h1M578 272h1M578 273h1M578 274h1M578 276h1M578 277h1M579 229h1M579 231h1M579 232h1M579 233h1M579 234h1M579 238h1M579 239h1M579 241h1M579 243h1M579 245h1M579 252h1M579 254h1M579 256h1M579 257h1M579 258h1M579 260h1M579 264h1M579 265h1M579 267h1M579 268h1M579 269h1M580 223h1M580 224h1M580 227h1M580 228h1M580 230h1M580 232h1M580 234h1M580 235h1M580 236h1M580 237h1M580 240h1M580 241h1M580 243h1M580 245h1M580 246h1M580 247h1M580 250h1M580 251h1M580 256h1M580 261h1M581 219h1M581 220h1M581 221h1M581 224h1M581 225h1M581 228h1M581 230h1M581 231h1M581 233h1M581 234h1M581 237h1M581 238h1M581 240h1M581 242h1M581 243h1M581 247h1M581 250h1M581 253h1M581 259h1M582 212h1M582 215h1M582 216h1M582 218h1M582 219h1M582 222h1M582 225h1M582 226h1M582 228h1M582 231h1M582 233h1M582 234h1M582 238h1M582 239h1M582 240h1M582 247h1M582 248h1M582 249h1M582 253h1M582 255h1M583 207h1M583 209h1M583 211h1M583 213h1M583 214h1M583 216h1M583 217h1M583 218h1M583 220h1M583 222h1M583 223h1M583 226h1M583 228h1M583 230h1M583 231h1M583 234h1M583 236h1M583 237h1M583 239h1M583 242h1M583 243h1M583 246h1M584 203h1M584 204h1M584 206h1M584 207h1M584 209h1M584 214h1M584 215h1M584 216h1M584 217h1M584 218h1M584 219h1M584 223h1M584 225h1M584 226h1M584 227h1M584 230h1M584 231h1M584 232h1M584 235h1M584 238h1M584 240h1M584 241h1M584 244h1M585 197h1M585 198h1M585 199h1M585 200h1M585 202h1M585 205h1M585 206h1M585 210h1M585 211h1M585 212h1M585 214h1M585 216h1M585 222h1M585 223h1M585 225h1M585 227h1M585 228h1M585 230h1M585 232h1M585 234h1M585 238h1M585 243h1M585 244h1M586 197h1M586 200h1M586 201h1M586 202h1M586 204h1M586 205h1M586 206h1M586 208h1M586 212h1M586 213h1M586 214h1M586 216h1M586 218h1M586 220h1M586 221h1M586 222h1M586 223h1M586 225h1M586 226h1M586 228h1M586 233h1M586 240h1M587 190h1M587 193h1M587 195h1M587 196h1M587 199h1M587 200h1M587 202h1M587 206h1M587 207h1M587 210h1M587 211h1M587 213h1M587 214h1M587 218h1M587 221h1M587 222h1M587 223h1M587 229h1M587 230h1M587 231h1M587 232h1M588 188h1M588 189h1M588 194h1M588 197h1M588 198h1M588 200h1M588 201h1M588 202h1M588 203h1M588 204h1M588 206h1M588 209h1M588 211h1M588 216h1M588 217h1M588 219h1M588 220h1M588 228h1M588 230h1M589 183h1M589 184h1M589 186h1M589 189h1M589 190h1M589 195h1M589 196h1M589 197h1M589 200h1M589 201h1M589 203h1M589 205h1M589 206h1M589 207h1M589 208h1M589 209h1M589 211h1M589 212h1M589 216h1M589 220h1M589 221h1M589 223h1M589 228h1M590 181h1M590 183h1M590 186h1M590 191h1M590 193h1M590 196h1M590 199h1M590 200h1M590 201h1M590 202h1M590 203h1M590 204h1M590 205h1M590 207h1M590 208h1M590 209h1M590 210h1M590 211h1M590 213h1M590 215h1M590 217h1M590 218h1M590 219h1M590 221h1M590 224h1M590 226h1M591 179h1M591 180h1M591 184h1M591 187h1M591 191h1M591 193h1M591 194h1M591 195h1M591 196h1M591 198h1M591 199h1M591 203h1M591 204h1M591 205h1M591 210h1M591 211h1M591 213h1M591 216h1M591 218h1M591 219h1M591 221h1M591 222h1M591 223h1M592 174h1M592 175h1M592 177h1M592 180h1M592 181h1M592 182h1M592 186h1M592 189h1M592 191h1M592 192h1M592 193h1M592 195h1M592 196h1M592 197h1M592 199h1M592 201h1M592 203h1M592 205h1M592 206h1M592 207h1M592 210h1M592 213h1M592 214h1M592 220h1M593 169h1M593 173h1M593 174h1M593 177h1M593 180h1M593 183h1M593 189h1M593 190h1M593 192h1M593 193h1M593 194h1M593 195h1M593 196h1M593 199h1M593 201h1M593 202h1M593 203h1M593 204h1M593 207h1M593 209h1M593 210h1M593 211h1M593 212h1M593 213h1M593 218h1M593 219h1M594 166h1M594 169h1M594 173h1M594 174h1M594 177h1M594 181h1M594 184h1M594 185h1M594 187h1M594 189h1M594 192h1M594 193h1M594 195h1M594 197h1M594 199h1M594 200h1M594 201h1M594 203h1M594 205h1M594 207h1M594 209h1M594 210h1M594 215h1M594 216h1M595 163h1M595 170h1M595 173h1M595 174h1M595 177h1M595 180h1M595 185h1M595 186h1M595 187h1M595 188h1M595 189h1M595 191h1M595 193h1M595 195h1M595 199h1M595 200h1M595 202h1M595 203h1M595 204h1M595 205h1M595 211h1M595 214h1M595 215h1M595 217h1M596 162h1M596 163h1M596 168h1M596 174h1M596 175h1M596 176h1M596 179h1M596 180h1M596 182h1M596 183h1M596 184h1M596 186h1M596 187h1M596 188h1M596 191h1M596 194h1M596 195h1M596 197h1M596 202h1M596 205h1M596 209h1M596 210h1M596 213h1M596 294h1M597 158h1M597 162h1M597 164h1M597 165h1M597 166h1M597 176h1M597 180h1M597 181h1M597 183h1M597 186h1M597 188h1M597 189h1M597 190h1M597 191h1M597 194h1M597 196h1M597 197h1M597 198h1M597 200h1M597 201h1M597 203h1M597 206h1M597 207h1M597 209h1M597 213h1M597 214h1M598 158h1M598 159h1M598 160h1M598 162h1M598 163h1M598 166h1M598 167h1M598 174h1M598 177h1M598 178h1M598 179h1M598 181h1M598 182h1M598 183h1M598 184h1M598 189h1M598 190h1M598 191h1M598 192h1M598 194h1M598 195h1M598 197h1M598 201h1M598 202h1M598 204h1M598 206h1M598 210h1M599 158h1M599 160h1M599 161h1M599 164h1M599 168h1M599 170h1M599 172h1M599 176h1M599 177h1M599 178h1M599 179h1M599 180h1M599 182h1M599 183h1M599 186h1M599 189h1M599 194h1M599 195h1M599 196h1M599 197h1M599 198h1M599 199h1M599 200h1M599 201h1M599 203h1M599 210h1M600 156h1M600 157h1M600 160h1M600 163h1M600 167h1M600 169h1M600 171h1M600 173h1M600 174h1M600 175h1M600 176h1M600 178h1M600 179h1M600 180h1M600 182h1M600 183h1M600 185h1M600 190h1M600 191h1M600 193h1M600 198h1M600 202h1M600 205h1M600 206h1M600 207h1M600 208h1M601 148h1M601 150h1M601 156h1M601 157h1M601 159h1M601 166h1M601 174h1M601 175h1M601 178h1M601 181h1M601 182h1M601 185h1M601 186h1M601 187h1M601 188h1M601 189h1M601 190h1M601 191h1M601 192h1M601 194h1M601 199h1M601 201h1M601 203h1M601 205h1M602 141h1M602 142h1M602 143h1M602 145h1M602 150h1M602 151h1M602 156h1M602 159h1M602 169h1M602 170h1M602 171h1M602 173h1M602 174h1M602 175h1M602 176h1M602 178h1M602 183h1M602 185h1M602 190h1M602 195h1M602 197h1M602 199h1M602 201h1M602 203h1M603 139h1M603 140h1M603 145h1M603 148h1M603 155h1M603 162h1M603 163h1M603 164h1M603 167h1M603 168h1M603 169h1M603 170h1M603 174h1M603 175h1M603 176h1M603 177h1M603 181h1M603 182h1M603 184h1M603 188h1M603 192h1M603 196h1M603 200h1M603 201h1M604 134h1M604 149h1M604 154h1M604 164h1M604 165h1M604 166h1M604 167h1M604 169h1M604 172h1M604 173h1M604 174h1M604 175h1M604 176h1M604 177h1M604 182h1M604 183h1M604 185h1M604 190h1M604 191h1M604 192h1M605 135h1M605 139h1M605 144h1M605 154h1M605 156h1M605 157h1M605 159h1M605 160h1M605 163h1M605 164h1M605 165h1M605 167h1M605 168h1M605 170h1M605 175h1M605 177h1M605 179h1M605 185h1M605 187h1M605 188h1M605 190h1M605 198h1M606 130h1M606 135h1M606 139h1M606 144h1M606 151h1M606 159h1M606 161h1M606 162h1M606 167h1M606 168h1M606 171h1M606 172h1M606 174h1M606 178h1M606 179h1M606 182h1M606 188h1M606 191h1M606 194h1M606 196h1M607 125h1M607 126h1M607 128h1M607 135h1M607 138h1M607 145h1M607 155h1M607 163h1M607 165h1M607 166h1M607 169h1M607 172h1M607 174h1M607 177h1M607 180h1M607 181h1M607 182h1M607 183h1M607 186h1M607 188h1M607 189h1M608 126h1M608 143h1M608 147h1M608 149h1M608 156h1M608 157h1M608 158h1M608 161h1M608 165h1M608 168h1M608 172h1M608 173h1M608 175h1M608 176h1M608 178h1M608 179h1M608 182h1M608 183h1M608 186h1M608 187h1M608 188h1M608 192h1M609 128h1M609 137h1M609 144h1M609 148h1M609 150h1M609 155h1M609 156h1M609 157h1M609 161h1M609 162h1M609 164h1M609 167h1M609 168h1M609 170h1M609 172h1M609 174h1M609 178h1M609 179h1M609 182h1M609 184h1M609 185h1M610 115h1M610 125h1M610 129h1M610 152h1M610 153h1M610 154h1M610 155h1M610 160h1M610 161h1M610 162h1M610 163h1M610 164h1M610 167h1M610 171h1M610 173h1M610 177h1M610 186h1M611 113h1M611 117h1M611 122h1M611 132h1M611 151h1M611 152h1M611 153h1M611 154h1M611 155h1M611 159h1M611 160h1M611 162h1M611 165h1M611 166h1M611 182h1M611 185h1M611 186h1M612 107h1M612 110h1M612 111h1M612 112h1M612 121h1M612 126h1M612 148h1M612 149h1M612 153h1M612 157h1M612 161h1M612 162h1M612 163h1M612 166h1M612 176h1M612 185h1M613 108h1M613 110h1M613 119h1M613 121h1M613 128h1M613 144h1M613 146h1M613 147h1M613 148h1M613 151h1M613 154h1M613 157h1M613 159h1M613 161h1M613 165h1M613 166h1M613 169h1M613 170h1M613 173h1M613 174h1M614 109h1M614 110h1M614 121h1M614 127h1M614 128h1M614 145h1M614 147h1M614 148h1M614 150h1M614 153h1M614 156h1M614 157h1M614 160h1M614 164h1M614 170h1M614 173h1M614 177h1M615 105h1M615 121h1M615 133h1M615 134h1M615 141h1M615 143h1M615 146h1M615 149h1M615 150h1M615 155h1M615 161h1M615 162h1M615 165h1M615 169h1M615 170h1M615 171h1M615 173h1M615 174h1M615 179h1M616 115h1M616 122h1M616 124h1M616 138h1M616 140h1M616 142h1M616 143h1M616 146h1M616 147h1M616 148h1M616 150h1M616 151h1M616 152h1M616 157h1M616 161h1M616 164h1M616 165h1M616 171h1M616 177h1M617 90h1M617 91h1M617 94h1M617 96h1M617 99h1M617 100h1M617 120h1M617 133h1M617 137h1M617 142h1M617 143h1M617 144h1M617 145h1M617 149h1M617 150h1M617 152h1M617 154h1M617 156h1M617 165h1M617 167h1M617 168h1M617 172h1M618 88h1M618 96h1M618 98h1M618 103h1M618 113h1M618 118h1M618 127h1M618 139h1M618 141h1M618 143h1M618 144h1M618 145h1M618 157h1M618 161h1M618 162h1M618 164h1M618 168h1M618 170h1M618 175h1M619 85h1M619 87h1M619 88h1M619 94h1M619 97h1M619 109h1M619 130h1M619 136h1M619 137h1M619 139h1M619 140h1M619 141h1M619 142h1M619 147h1M619 148h1M619 156h1M619 157h1M619 160h1M619 165h1M619 171h1M619 174h1M619 176h1M620 80h1M620 81h1M620 83h1M620 85h1M620 90h1M620 102h1M620 111h1M620 129h1M620 133h1M620 135h1M620 137h1M620 138h1M620 143h1M620 146h1M620 147h1M620 157h1M620 163h1M620 166h1M620 171h1M620 173h1M620 175h1M621 105h1M621 109h1M621 112h1M621 119h1M621 124h1M621 128h1M621 129h1M621 132h1M621 133h1M621 138h1M621 144h1M621 145h1M621 146h1M621 148h1M621 154h1M621 160h1M621 163h1M621 165h1M621 167h1M622 82h1M622 83h1M622 96h1M622 100h1M622 111h1M622 114h1M622 117h1M622 122h1M622 130h1M622 131h1M622 133h1M622 134h1M622 140h1M622 142h1M622 143h1M622 149h1M622 151h1M622 153h1M622 154h1M622 170h1M622 171h1M623 80h1M623 88h1M623 95h1M623 105h1M623 107h1M623 118h1M623 124h1M623 128h1M623 132h1M623 133h1M623 134h1M623 140h1M623 142h1M623 146h1M623 153h1M623 163h1M623 167h1M623 171h1M624 84h1M624 92h1M624 104h1M624 115h1M624 120h1M624 123h1M624 126h1M624 127h1M624 129h1M624 131h1M624 138h1M624 139h1M624 140h1M624 147h1M624 159h1M624 160h1M624 161h1M624 164h1M624 169h1M624 243h1M625 80h1M625 85h1M625 88h1M625 91h1M625 106h1M625 126h1M625 130h1M625 131h1M625 134h1M625 135h1M625 137h1M625 138h1M625 142h1M625 148h1M625 149h1M625 150h1M625 157h1M625 167h1M626 82h1M626 89h1M626 94h1M626 97h1M626 122h1M626 124h1M626 127h1M626 128h1M626 132h1M626 134h1M626 153h1M626 155h1M626 158h1M626 161h1M626 165h1M627 86h1M627 87h1M627 100h1M627 101h1M627 109h1M627 113h1M627 121h1M627 122h1M627 124h1M627 128h1M627 131h1M627 139h1M627 158h1M627 160h1M627 161h1M627 166h1M628 84h1M628 100h1M628 101h1M628 102h1M628 113h1M628 120h1M628 121h1M628 126h1M628 128h1M628 131h1M628 132h1M628 139h1M628 143h1M628 149h1M628 150h1M628 166h1M628 167h1M629 82h1M629 86h1M629 107h1M629 112h1M629 115h1M629 116h1M629 119h1M629 121h1M629 123h1M629 128h1M629 136h1M629 140h1M629 141h1M629 156h1M629 157h1M629 158h1M629 163h1M629 166h1M630 83h1M630 84h1M630 87h1M630 88h1M630 96h1M630 116h1M630 118h1M630 119h1M630 120h1M630 127h1M630 130h1M630 131h1M630 135h1M630 139h1M630 144h1M630 149h1M630 162h1M630 165h1M631 81h1M631 83h1M631 87h1M631 95h1M631 104h1M631 119h1M631 120h1M631 121h1M631 122h1M631 123h1M631 124h1M631 126h1M631 131h1M631 132h1M631 140h1M631 141h1M631 142h1M631 149h1M631 158h1M631 166h1M632 88h1M632 99h1M632 104h1M632 110h1M632 114h1M632 118h1M632 119h1M632 121h1M632 123h1M632 127h1M632 133h1M632 135h1M632 144h1M632 150h1M632 161h1M632 162h1M632 164h1M633 88h1M633 90h1M633 106h1M633 108h1M633 115h1M633 116h1M633 117h1M633 118h1M633 119h1M633 121h1M633 124h1M633 135h1M633 139h1M633 140h1M633 156h1M633 165h1M634 90h1M634 97h1M634 103h1M634 114h1M634 115h1M634 121h1M634 123h1M634 126h1M634 127h1M634 131h1M634 132h1M634 139h1M634 142h1M634 144h1M634 151h1M634 154h1M635 90h1M635 92h1M635 94h1M635 105h1M635 109h1M635 114h1M635 116h1M635 122h1M635 123h1M635 125h1M635 132h1M635 136h1M635 140h1M635 148h1M635 153h1M635 155h1M635 162h1M636 83h1M636 84h1M636 95h1M636 102h1M636 112h1M636 113h1M636 114h1M636 121h1M636 123h1M636 128h1M636 129h1M636 130h1M636 135h1M636 143h1M636 156h1M636 158h1M637 85h1M637 93h1M637 98h1M637 112h1M637 116h1M637 119h1M637 121h1M637 122h1M637 124h1M637 131h1M637 137h1M637 145h1M637 150h1M637 152h1M637 156h1M638 84h1M638 93h1M638 98h1M638 110h1M638 115h1M638 119h1M638 121h1M638 125h1M638 127h1M638 128h1M638 129h1M638 131h1M638 136h1M638 142h1M638 151h1M638 160h1M638 162h1M638 163h1M639 93h1M639 99h1M639 110h1M639 111h1M639 113h1M639 114h1M639 115h1M639 116h1M639 121h1M639 122h1M639 130h1M639 132h1M639 134h1M639 140h1M639 153h1M639 155h1M640 84h1M640 91h1M640 108h1M640 110h1M640 112h1M640 118h1M640 124h1M640 128h1M640 131h1M640 132h1M640 134h1M640 144h1M640 147h1M640 157h1M640 161h1M641 89h1M641 95h1M641 108h1M641 110h1M641 119h1M641 125h1M641 133h1M641 135h1M641 144h1M641 150h1M641 152h1M641 157h1M642 83h1M642 87h1M642 107h1M642 108h1M642 109h1M642 110h1M642 111h1M642 119h1M642 126h1M642 128h1M642 136h1M642 139h1M642 141h1M642 145h1M642 150h1M642 158h1M643 83h1M643 86h1M643 108h1M643 111h1M643 112h1M643 113h1M643 117h1M643 118h1M643 119h1M643 122h1M643 131h1M643 133h1M643 137h1M643 143h1M643 145h1M643 148h1M644 84h1M644 108h1M644 110h1M644 111h1M644 119h1M644 120h1M644 126h1M644 129h1M644 131h1M644 136h1M644 139h1M644 148h1M644 152h1M644 157h1M645 88h1M645 93h1M645 107h1M645 108h1M645 109h1M645 111h1M645 125h1M645 128h1M645 130h1M645 132h1M645 139h1M645 141h1M645 157h1M646 83h1M646 89h1M646 113h1M646 114h1M646 118h1M646 126h1M646 128h1M646 132h1M646 134h1M646 135h1M646 136h1M646 137h1M646 148h1M646 160h1M647 83h1M647 87h1M647 107h1M647 110h1M647 111h1M647 117h1M647 118h1M647 121h1M647 127h1M647 131h1M647 139h1M647 146h1M647 147h1M647 155h1M648 80h1M648 86h1M648 106h1M648 107h1M648 115h1M648 121h1M648 123h1M648 127h1M648 132h1M648 134h1M648 140h1M648 143h1M648 145h1M648 146h1M648 154h1M648 156h1M649 82h1M649 92h1M649 105h1M649 106h1M649 110h1M649 111h1M649 113h1M649 117h1M649 120h1M649 121h1M649 138h1M649 139h1M649 150h1M649 151h1M649 155h1M649 157h1M650 90h1M650 94h1M650 106h1M650 107h1M650 109h1M650 114h1M650 118h1M650 130h1M650 135h1M650 145h1M650 149h1M650 150h1M650 151h1M651 89h1M651 90h1M651 105h1M651 107h1M651 108h1M651 111h1M651 112h1M651 114h1M651 115h1M651 117h1M651 121h1M651 126h1M651 131h1M651 147h1M651 152h1M651 154h1M652 81h1M652 89h1M652 105h1M652 106h1M652 115h1M652 118h1M652 124h1M652 125h1M652 130h1M652 138h1M652 141h1M653 82h1M653 83h1M653 105h1M653 106h1M653 109h1M653 116h1M653 117h1M653 118h1M653 124h1M653 134h1M653 135h1M653 137h1M653 140h1M653 146h1M653 149h1M653 156h1M654 83h1M654 87h1M654 104h1M654 114h1M654 117h1M654 120h1M654 121h1M654 123h1M654 127h1M654 136h1M654 141h1M654 144h1M654 149h1M654 154h1M655 93h1M655 95h1M655 106h1M655 107h1M655 109h1M655 113h1M655 114h1M655 118h1M655 125h1M655 130h1M655 134h1M655 136h1M655 144h1M655 157h1M656 88h1M656 94h1M656 105h1M656 106h1M656 108h1M656 111h1M656 112h1M656 117h1M656 118h1M656 119h1M656 126h1M656 127h1M656 130h1M656 159h1M657 87h1M657 94h1M657 106h1M657 108h1M657 118h1M657 119h1M657 125h1M657 132h1M657 133h1M657 134h1M657 139h1M657 142h1M657 150h1M657 153h1M657 157h1M658 85h1M658 93h1M658 107h1M658 109h1M658 110h1M658 113h1M658 114h1M658 118h1M658 121h1M658 130h1M658 132h1M658 138h1M658 140h1M658 143h1M658 145h1M658 155h1M659 83h1M659 84h1M659 107h1M659 108h1M659 111h1M659 116h1M659 121h1M659 123h1M659 128h1M659 129h1M659 132h1M659 134h1M659 138h1M659 140h1M659 147h1M660 81h1M660 91h1M660 108h1M660 109h1M660 112h1M660 114h1M660 116h1M660 122h1M660 123h1M660 128h1M660 129h1M660 130h1M660 131h1M660 132h1M660 156h1M660 158h1M661 88h1M661 90h1M661 107h1M661 111h1M661 114h1M661 129h1M661 130h1M661 132h1M661 135h1M661 145h1M661 147h1M661 149h1M661 156h1M661 157h1M661 159h1M662 80h1M662 83h1M662 109h1M662 111h1M662 114h1M662 117h1M662 126h1M662 131h1M662 140h1M662 147h1M662 149h1M662 150h1M662 152h1M662 157h1M662 159h1M663 90h1M663 95h1M663 108h1M663 109h1M663 113h1M663 122h1M663 126h1M663 127h1M663 135h1M663 139h1M663 143h1M663 144h1M663 147h1M663 150h1M664 93h1M664 108h1M664 109h1M664 113h1M664 117h1M664 119h1M664 123h1M664 128h1M664 143h1M664 144h1M664 145h1M664 149h1M664 150h1M664 154h1M664 155h1M665 88h1M665 89h1M665 90h1M665 109h1M665 111h1M665 113h1M665 114h1M665 115h1M665 120h1M665 122h1M665 139h1M665 146h1M665 150h1M666 80h1M666 90h1M666 113h1M666 114h1M666 115h1M666 116h1M666 117h1M666 118h1M666 137h1M666 141h1M666 142h1M666 146h1M666 156h1M666 157h1M667 88h1M667 95h1M667 110h1M667 115h1M667 117h1M667 123h1M667 129h1M667 131h1M667 137h1M667 143h1M667 148h1M667 152h1M667 154h1M667 155h1M668 85h1M668 87h1M668 114h1M668 119h1M668 120h1M668 122h1M668 123h1M668 124h1M668 132h1M668 137h1M668 147h1M668 150h1M669 88h1M669 94h1M669 112h1M669 115h1M669 119h1M669 120h1M669 122h1M669 124h1M669 130h1M669 134h1M669 138h1M669 140h1M669 142h1M669 149h1M670 82h1M670 112h1M670 114h1M670 119h1M670 129h1M670 139h1M670 145h1M670 146h1M670 149h1M670 150h1M670 151h1M670 161h1M670 162h1M671 83h1M671 84h1M671 113h1M671 115h1M671 116h1M671 117h1M671 122h1M671 125h1M671 138h1M671 140h1M671 142h1M671 158h1M671 160h1M671 161h1M672 82h1M672 84h1M672 87h1M672 94h1M672 118h1M672 119h1M672 120h1M672 121h1M672 129h1M672 132h1M672 139h1M672 141h1M672 142h1M672 143h1M672 146h1M672 151h1M672 157h1M672 163h1M673 91h1M673 95h1M673 100h1M673 105h1M673 120h1M673 122h1M673 127h1M673 129h1M673 130h1M673 141h1M673 142h1M673 150h1M673 154h1M673 156h1M673 159h1M673 161h1M674 86h1M674 89h1M674 93h1M674 96h1M674 122h1M674 125h1M674 126h1M674 127h1M674 128h1M674 130h1M674 136h1M674 138h1M674 140h1M674 150h1M674 151h1M674 155h1M674 158h1M674 161h1M675 80h1M675 91h1M675 99h1M675 117h1M675 120h1M675 122h1M675 124h1M675 130h1M675 139h1M675 147h1M675 151h1M675 153h1M675 157h1M675 160h1M675 163h1M676 87h1M676 109h1M676 110h1M676 113h1M676 119h1M676 120h1M676 123h1M676 126h1M676 128h1M676 129h1M676 132h1M676 143h1M676 148h1M676 150h1M676 160h1M676 163h1M676 164h1M677 81h1M677 86h1M677 89h1M677 105h1M677 120h1M677 121h1M677 124h1M677 126h1M677 132h1M677 136h1M677 137h1M677 148h1M677 149h1M677 156h1M677 158h1M677 163h1M678 83h1M678 89h1M678 100h1M678 113h1M678 118h1M678 121h1M678 122h1M678 129h1M678 130h1M678 132h1M678 134h1M678 136h1M678 140h1M678 141h1M678 157h1M678 158h1M678 162h1M678 163h1M679 91h1M679 93h1M679 97h1M679 99h1M679 119h1M679 124h1M679 128h1M679 132h1M679 140h1M679 142h1M679 150h1M679 152h1M679 162h1M679 164h1M679 166h1M679 167h1M679 168h1M680 91h1M680 92h1M680 97h1M680 106h1M680 120h1M680 121h1M680 127h1M680 128h1M680 132h1M680 146h1M680 150h1M680 153h1M680 158h1M680 161h1M680 164h1M680 167h1M680 170h1M681 83h1M681 84h1M681 88h1M681 107h1M681 116h1M681 127h1M681 130h1M681 131h1M681 133h1M681 136h1M681 138h1M681 142h1M681 144h1M681 153h1M681 158h1M681 159h1M681 161h1M681 162h1M681 172h1M682 80h1M682 83h1M682 93h1M682 94h1M682 104h1M682 109h1M682 128h1M682 130h1M682 133h1M682 136h1M682 138h1M682 140h1M682 141h1M682 142h1M682 150h1M682 151h1M682 152h1M682 155h1M682 158h1M682 163h1M682 166h1M683 81h1M683 84h1M683 95h1M683 99h1M683 101h1M683 110h1M683 116h1M683 130h1M683 131h1M683 132h1M683 133h1M683 134h1M683 136h1M683 137h1M683 142h1M683 146h1M683 149h1M683 151h1M683 156h1M683 168h1M683 169h1M683 170h1M684 89h1M684 115h1M684 121h1M684 123h1M684 131h1M684 133h1M684 137h1M684 140h1M684 142h1M684 144h1M684 149h1M684 152h1M684 155h1M684 156h1M684 158h1M684 167h1M685 94h1M685 98h1M685 103h1M685 107h1M685 117h1M685 119h1M685 134h1M685 135h1M685 137h1M685 139h1M685 148h1M685 149h1M685 156h1M685 158h1M685 164h1M685 166h1M685 167h1M686 90h1M686 91h1M686 95h1M686 98h1M686 114h1M686 126h1M686 131h1M686 135h1M686 137h1M686 138h1M686 139h1M686 145h1M686 149h1M686 150h1M686 151h1M686 156h1M686 170h1M686 172h1M686 174h1M687 111h1M687 113h1M687 121h1M687 125h1M687 129h1M687 130h1M687 138h1M687 139h1M687 140h1M687 141h1M687 142h1M687 143h1M687 147h1M687 148h1M687 152h1M687 164h1M687 173h1M688 80h1M688 82h1M688 85h1M688 106h1M688 109h1M688 132h1M688 136h1M688 139h1M688 140h1M688 141h1M688 142h1M688 146h1M688 154h1M688 163h1M688 165h1M688 166h1M688 168h1M688 177h1M688 178h1M689 87h1M689 95h1M689 105h1M689 117h1M689 122h1M689 128h1M689 138h1M689 140h1M689 141h1M689 144h1M689 152h1M689 153h1M689 157h1M689 164h1M689 167h1M689 170h1M689 175h1M689 176h1M689 180h1M690 81h1M690 94h1M690 99h1M690 117h1M690 129h1M690 136h1M690 138h1M690 143h1M690 149h1M690 150h1M690 151h1M690 153h1M690 158h1M690 161h1M690 164h1M690 165h1M690 171h1M690 174h1M690 178h1M690 179h1M690 180h1M691 87h1M691 89h1M691 116h1M691 122h1M691 139h1M691 146h1M691 148h1M691 149h1M691 150h1M691 151h1M691 156h1M691 158h1M691 162h1M691 168h1M691 173h1M691 177h1M691 178h1M692 92h1M692 109h1M692 121h1M692 125h1M692 128h1M692 131h1M692 145h1M692 148h1M692 149h1M692 151h1M692 153h1M692 159h1M692 161h1M692 162h1M692 164h1M692 166h1M692 169h1M692 171h1M692 173h1M692 181h1M692 185h1M693 99h1M693 110h1M693 113h1M693 115h1M693 122h1M693 123h1M693 138h1M693 145h1M693 151h1M693 153h1M693 157h1M693 161h1M693 170h1M693 174h1M693 175h1M693 179h1M693 181h1M693 183h1M694 118h1M694 128h1M694 130h1M694 138h1M694 145h1M694 150h1M694 151h1M694 153h1M694 154h1M694 155h1M694 156h1M694 159h1M694 166h1M694 170h1M694 175h1M694 176h1M694 180h1M694 181h1M694 188h1M694 191h1M694 365h1M695 117h1M695 118h1M695 121h1M695 125h1M695 132h1M695 133h1M695 142h1M695 154h1M695 157h1M695 158h1M695 159h1M695 162h1M695 163h1M695 167h1M695 169h1M695 172h1M695 174h1M695 186h1M696 119h1M696 136h1M696 137h1M696 139h1M696 140h1M696 145h1M696 149h1M696 160h1M696 161h1M696 162h1M696 170h1M696 179h1M696 180h1M696 184h1M696 192h1M697 125h1M697 130h1M697 133h1M697 137h1M697 140h1M697 145h1M697 148h1M697 157h1M697 164h1M697 165h1M697 166h1M697 168h1M697 169h1M697 172h1M697 174h1M697 176h1M697 177h1M697 181h1M697 188h1M698 137h1M698 138h1M698 140h1M698 148h1M698 150h1M698 164h1M698 167h1M698 172h1M698 173h1M698 175h1M698 176h1M698 178h1M698 179h1M698 186h1M698 187h1M698 189h1M698 192h1M698 195h1M698 198h1M699 144h1M699 146h1M699 147h1M699 152h1M699 154h1M699 159h1M699 164h1M699 167h1M699 170h1M699 172h1M699 174h1M699 175h1M699 177h1M699 179h1M699 180h1M699 183h1M699 185h1M699 187h1M699 191h1M699 193h1M700 147h1M700 149h1M700 150h1M700 151h1M700 154h1M700 168h1M700 170h1M700 174h1M700 175h1M700 176h1M700 178h1M700 183h1M700 186h1M700 187h1M700 188h1M700 193h1M700 195h1M700 198h1M700 199h1M700 201h1M701 148h1M701 150h1M701 153h1M701 156h1M701 160h1M701 161h1M701 173h1M701 177h1M701 179h1M701 180h1M701 182h1M701 190h1M701 192h1M701 197h1M701 201h1M701 203h1M701 204h1M702 154h1M702 166h1M702 170h1M702 172h1M702 175h1M702 176h1M702 178h1M702 181h1M702 182h1M702 183h1M702 185h1M702 186h1M702 188h1M702 189h1M702 193h1M702 196h1M702 199h1M702 200h1M702 202h1M703 160h1M703 162h1M703 164h1M703 165h1M703 171h1M703 177h1M703 182h1M703 184h1M703 186h1M703 188h1M703 192h1M703 193h1M703 202h1M703 203h1M703 208h1M703 209h1M703 210h1M703 211h1M704 164h1M704 165h1M704 166h1M704 171h1M704 174h1M704 182h1M704 183h1M704 185h1M704 186h1M704 188h1M704 191h1M704 194h1M704 196h1M704 198h1M704 201h1M704 202h1M704 209h1M705 172h1M705 178h1M705 179h1M705 180h1M705 182h1M705 183h1M705 184h1M705 185h1M705 190h1M705 194h1M705 195h1M705 196h1M705 200h1M705 202h1M705 205h1M705 207h1M705 208h1M705 211h1M705 213h1M705 214h1M706 176h1M706 177h1M706 178h1M706 181h1M706 183h1M706 188h1M706 189h1M706 194h1M706 195h1M706 197h1M706 198h1M706 201h1M706 203h1M706 204h1M706 205h1M706 210h1M706 212h1M706 221h1M707 182h1M707 183h1M707 188h1M707 190h1M707 191h1M707 197h1M707 198h1M707 199h1M707 204h1M707 206h1M707 211h1M707 214h1M707 215h1M707 219h1M707 223h1M708 188h1M708 189h1M708 190h1M708 191h1M708 194h1M708 196h1M708 201h1M708 202h1M708 203h1M708 204h1M708 208h1M708 209h1M708 210h1M708 215h1M708 216h1M708 219h1M708 220h1M708 222h1M709 196h1M709 197h1M709 199h1M709 204h1M709 205h1M709 207h1M709 208h1M709 209h1M709 210h1M709 211h1M709 213h1M709 215h1M709 222h1M709 226h1M709 229h1M709 230h1M709 231h1M710 199h1M710 200h1M710 201h1M710 203h1M710 209h1M710 210h1M710 212h1M710 214h1M710 218h1M710 220h1M710 222h1M710 224h1M710 225h1M710 232h1M711 202h1M711 204h1M711 205h1M711 206h1M711 211h1M711 212h1M711 213h1M711 214h1M711 215h1M711 216h1M711 222h1M711 225h1M711 227h1M711 229h1M711 230h1M711 232h1M711 234h1M712 206h1M712 210h1M712 212h1M712 215h1M712 216h1M712 217h1M712 218h1M712 222h1M712 223h1M712 224h1M712 225h1M712 226h1M712 227h1M712 232h1M712 240h1M713 213h1M713 215h1M713 217h1M713 218h1M713 219h1M713 220h1M713 221h1M713 225h1M713 229h1M713 231h1M713 233h1M713 234h1M713 239h1M714 213h1M714 215h1M714 221h1M714 222h1M714 223h1M714 224h1M714 225h1M714 227h1M714 228h1M714 230h1M714 231h1M714 232h1M714 233h1M714 234h1M714 235h1M714 237h1M714 238h1M714 240h1M714 244h1M714 246h1M715 215h1M715 216h1M715 221h1M715 225h1M715 226h1M715 227h1M715 228h1M715 229h1M715 230h1M715 231h1M715 237h1M715 238h1M715 240h1M715 241h1M715 243h1M715 249h1M715 251h1M716 220h1M716 223h1M716 226h1M716 227h1M716 228h1M716 229h1M716 230h1M716 232h1M716 233h1M716 235h1M716 236h1M716 237h1M716 241h1M716 245h1M716 249h1M716 251h1M716 253h1M716 254h1M716 255h1M717 224h1M717 225h1M717 226h1M717 229h1M717 231h1M717 232h1M717 233h1M717 234h1M717 235h1M717 236h1M717 237h1M717 239h1M717 241h1M717 242h1M717 243h1M717 245h1M717 250h1M717 252h1M717 253h1M717 257h1M718 231h1M718 232h1M718 234h1M718 235h1M718 236h1M718 237h1M718 238h1M718 241h1M718 245h1M718 248h1M718 250h1M718 251h1M718 252h1M718 254h1M718 258h1M718 260h1M718 261h1M718 262h1M719 229h1M719 233h1M719 235h1M719 236h1M719 237h1M719 238h1M719 239h1M719 242h1M719 243h1M719 245h1M719 246h1M719 247h1M719 248h1M719 252h1M719 257h1M719 259h1M719 260h1M719 262h1"/>
<rect class="ln" x="80.5" y="79.5" width="640" height="304"/>
<rect class="ln" x="80.5" y="415.5" width="640" height="304"/>
<path class="ln" d="M80.5 377v6M80.5 80v6M160.5 377v6M160.5 80v6M240.5 377v6M240.5 80v6M320.5 377v6M320.5 80v6M400.5 377v6M400.5 80v6M480.5 377v6M480.5 80v6M560.5 377v6M560.5 80v6M640.5 377v6M640.5 80v6M720.5 377v6M720.5 80v6M81 383.5h13M707 383.5h13M81 375.5h6M714 375.5h6M81 368.5h6M714 368.5h6M81 360.5h6M714 360.5h6M81 353.5h6M714 353.5h6M81 345.5h6M714 345.5h6M81 337.5h6M714 337.5h6M81 330.5h6M714 330.5h6M81 322.5h6M714 322.5h6M81 315.5h6M714 315.5h6M81 307.5h13M707 307.5h13M81 299.5h6M714 299.5h6M81 292.5h6M714 292.5h6M81 284.5h6M714 284.5h6M81 277.5h6M714 277.5h6M81 269.5h6M714 269.5h6M81 261.5h6M714 261.5h6M81 254.5h6M714 254.5h6M81 246.5h6M714 246.5h6M81 239.5h6M714 239.5h6M81 231.5h13M707 231.5h13M81 223.5h6M714 223.5h6M81 216.5h6M714 216.5h6M81 208.5h6M714 208.5h6M81 201.5h6M714 201.5h6M81 193.5h6M714 193.5h6M81 185.5h6M714 185.5h6M81 178.5h6M714 178.5h6M81 170.5h6M714 170.5h6M81 163.5h6M714 163.5h6M81 155.5h13M707 155.5h13M81 147.5h6M714 147.5h6M81 140.5h6M714 140.5h6M81 132.5h6M714 132.5h6M81 125.5h6M714 125.5h6M81 117.5h6M714 117.5h6M81 109.5h6M714 109.5h6M81 102.5h6M714 102.5h6M81 94.5h6M714 94.5h6M81 87.5h6M714 87.5h6M81 79.5h13M707 79.5h13M112.5 716v3M112.5 416v3M144.5 713v6M144.5 416v6M176.5 716v3M176.5 416v3M208.5 716v3M208.5 416v3M240.5 716v3M240.5 416v3M272.5 713v6M272.5 416v6M304.5 716v3M304.5 416v3M336.5 716v3M336.5 416v3M368.5 716v3M368.5 416v3M400.5 713v6M400.5 416v6M432.5 716v3M432.5 416v3M464.5 716v3M464.5 416v3M496.5 716v3M496.5 416v3M528.5 713v6M528.5 416v6M560.5 716v3M560.5 416v3M592.5 716v3M592.5 416v3M624.5 716v3M624.5 416v3M656.5 713v6M656.5 416v6M688.5 716v3M688.5 416v3M81 719.5h13M707 719.5h13M81 704.5h6M714 704.5h6M81 689.5h6M714 689.5h6M81 673.5h6M714 673.5h6M81 658.5h6M714 658.5h6M81 643.5h13M707 643.5h13M81 628.5h6M714 628.5h6M81 613.5h6M714 613.5h6M81 597.5h6M714 597.5h6M81 582.5h6M714 582.5h6M81 567.5h13M707 567.5h13M81 552.5h6M714 552.5h6M81 537.5h6M714 537.5h6M81 521.5h6M714 521.5h6M81 506.5h6M714 506.5h6M81 491.5h13M707 491.5h13M81 476.5h6M714 476.5h6M81 461.5h6M714 461.5h6M81 445.5h6M714 445.5h6M81 430.5h6M714 430.5h6M81 415.5h13M707 415.5h13"/>
<path class="bk" d="M81 632h212v8h-212zM299 632h233v8h-233zM539 632h181v8h-181z"/>
<path class="ln" d="M114 640.5h1M117 640.5h1M120 640.5h1M143 640.5h1M146 640.5h1M149 640.5h1M184 640.5h1M187 640.5h1M190 640.5h1M226 640.5h1M229 640.5h1M232 640.5h1M271 640.5h1M274 640.5h1M277 640.5h1M367 640.5h1M370 640.5h1M373 640.5h1M396 640.5h1M399 640.5h1M402 640.5h1M437 640.5h1M440 640.5h1M443 640.5h1M465 640.5h1M468 640.5h1M471 640.5h1M494 640.5h1M497 640.5h1M500 640.5h1M521 640.5h1M524 640.5h1M527 640.5h1M539 640.5h1M542 640.5h1M545 640.5h1M562 640.5h1M565 640.5h1M568 640.5h1M565 640.5h1M568 640.5h1M571 640.5h1M594 640.5h1M597 640.5h1M600 640.5h1M622 640.5h1M625 640.5h1M628 640.5h1M649 640.5h1M652 640.5h1M655 640.5h1M691 640.5h1M694 640.5h1M697 640.5h1M300 640.5h9M437 631.5h1M440 631.5h1M443 631.5h1M691 631.5h1M694 631.5h1M697 631.5h1"/>
<path d="M292 634.5h1M292 637.5h1M299 634.5h1M299 637.5h1M531 634.5h1M531 637.5h1M539 634.5h1M539 637.5h1" stroke="#fff" stroke-width="1" shape-rendering="crispEdges"/>
<path class="ln" d="M88 553.5h7M91.5 550v7M88 550.5h1M88 556.5h1M89 551.5h1M89 555.5h1M90 552.5h1M90 554.5h1M92 554.5h1M92 552.5h1M93 555.5h1M93 551.5h1M94 556.5h1M94 550.5h1M299 554.5h7M302.5 551v7M299 551.5h1M299 557.5h1M300 552.5h1M300 556.5h1M301 553.5h1M301 555.5h1M303 555.5h1M303 553.5h1M304 556.5h1M304 552.5h1M305 557.5h1M305 551.5h1M299 555.5h7M302.5 552v7M299 552.5h1M299 558.5h1M300 553.5h1M300 557.5h1M301 554.5h1M301 556.5h1M303 556.5h1M303 554.5h1M304 557.5h1M304 553.5h1M305 558.5h1M305 552.5h1"/>
<g style="filter:grayscale(1)">
<text y="48" font-size="17.8"><tspan x="238" textLength="72" lengthAdjust="spacingAndGlyphs">RBSP-A</tspan> <tspan x="317" textLength="55" lengthAdjust="spacingAndGlyphs">SHORT</tspan> <tspan x="380" textLength="37" lengthAdjust="spacingAndGlyphs">ANT.</tspan> <tspan x="426" textLength="71" lengthAdjust="spacingAndGlyphs">SHADOW</tspan> <tspan x="505" textLength="48" lengthAdjust="spacingAndGlyphs">TIMES</tspan></text>
<text y="67" font-size="17.8"><tspan x="157" textLength="45" lengthAdjust="spacingAndGlyphs">2014</tspan> <tspan x="209.5" textLength="33.5" lengthAdjust="spacingAndGlyphs">059</tspan> <tspan x="252.5" textLength="67.5" lengthAdjust="spacingAndGlyphs">(02/28)</tspan> <tspan x="333" textLength="50" lengthAdjust="spacingAndGlyphs">00:00</tspan> <tspan x="392" textLength="15.5" lengthAdjust="spacingAndGlyphs">to</tspan> <tspan x="418" textLength="44" lengthAdjust="spacingAndGlyphs">2014</tspan> <tspan x="471.5" textLength="32.5" lengthAdjust="spacingAndGlyphs">060</tspan> <tspan x="513" textLength="71" lengthAdjust="spacingAndGlyphs">(03/01)</tspan> <tspan x="593" textLength="50" lengthAdjust="spacingAndGlyphs">00:00</tspan></text>
<text x="80" y="407" font-size="13.8" textLength="40.5" lengthAdjust="spacingAndGlyphs" text-anchor="middle">00:00</text>
<text x="160" y="407" font-size="13.8" textLength="40.5" lengthAdjust="spacingAndGlyphs" text-anchor="middle">03:00</text>
<text x="240" y="407" font-size="13.8" textLength="40.5" lengthAdjust="spacingAndGlyphs" text-anchor="middle">06:00</text>
<text x="320" y="407" font-size="13.8" textLength="40.5" lengthAdjust="spacingAndGlyphs" text-anchor="middle">09:00</text>
<text x="400" y="407" font-size="13.8" textLength="40.5" lengthAdjust="spacingAndGlyphs" text-anchor="middle">12:00</text>
<text x="480" y="407" font-size="13.8" textLength="40.5" lengthAdjust="spacingAndGlyphs" text-anchor="middle">15:00</text>
<text x="560" y="407" font-size="13.8" textLength="40.5" lengthAdjust="spacingAndGlyphs" text-anchor="middle">18:00</text>
<text x="640" y="407" font-size="13.8" textLength="40.5" lengthAdjust="spacingAndGlyphs" text-anchor="middle">21:00</text>
<text x="720" y="407" font-size="13.8" textLength="40.5" lengthAdjust="spacingAndGlyphs" text-anchor="middle">00:00</text>
<text x="144" y="743" font-size="13.8" textLength="40.5" lengthAdjust="spacingAndGlyphs" text-anchor="middle">02:24</text>
<text x="272" y="743" font-size="13.8" textLength="40.5" lengthAdjust="spacingAndGlyphs" text-anchor="middle">07:12</text>
<text x="400" y="743" font-size="13.8" textLength="40.5" lengthAdjust="spacingAndGlyphs" text-anchor="middle">12:00</text>
<text x="528" y="743" font-size="13.8" textLength="40.5" lengthAdjust="spacingAndGlyphs" text-anchor="middle">16:48</text>
<text x="656" y="743" font-size="13.8" textLength="40.5" lengthAdjust="spacingAndGlyphs" text-anchor="middle">21:35</text>
<text x="76" y="91" font-size="13.8" textLength="27.3" lengthAdjust="spacingAndGlyphs" text-anchor="end">400</text>
<text x="76" y="163" font-size="13.8" textLength="27.3" lengthAdjust="spacingAndGlyphs" text-anchor="end">300</text>
<text x="76" y="239" font-size="13.8" textLength="27.3" lengthAdjust="spacingAndGlyphs" text-anchor="end">200</text>
<text x="76" y="314" font-size="13.8" textLength="27.3" lengthAdjust="spacingAndGlyphs" text-anchor="end">100</text>
<text x="76" y="384" font-size="13.8" textLength="9.1" lengthAdjust="spacingAndGlyphs" text-anchor="end">0</text>
<text x="76" y="427" font-size="13.8" textLength="18.2" lengthAdjust="spacingAndGlyphs" text-anchor="end">20</text>
<text x="76" y="498" font-size="13.8" textLength="18.2" lengthAdjust="spacingAndGlyphs" text-anchor="end">15</text>
<text x="76" y="574" font-size="13.8" textLength="18.2" lengthAdjust="spacingAndGlyphs" text-anchor="end">10</text>
<text x="76" y="650" font-size="13.8" textLength="9.1" lengthAdjust="spacingAndGlyphs" text-anchor="end">5</text>
<text x="76" y="720" font-size="13.8" textLength="9.1" lengthAdjust="spacingAndGlyphs" text-anchor="end">0</text>
<text transform="translate(38 0) rotate(-90)" y="0" font-size="14.8"><tspan x="-384" textLength="39" lengthAdjust="spacingAndGlyphs">Probe</tspan> <tspan x="-338.5" textLength="10" lengthAdjust="spacingAndGlyphs">5</tspan> <tspan x="-321.5" textLength="41.5" lengthAdjust="spacingAndGlyphs">DELTA</tspan> <tspan x="-274.5" textLength="28.5" lengthAdjust="spacingAndGlyphs">AMP</tspan> <tspan x="-239" textLength="51" lengthAdjust="spacingAndGlyphs">DURING</tspan> <tspan x="-183" textLength="58" lengthAdjust="spacingAndGlyphs">SHADOW</tspan> <tspan x="-118" textLength="38" lengthAdjust="spacingAndGlyphs">(ADC)</tspan></text>
<text transform="translate(47 0) rotate(-90)" y="0" font-size="14.8"><tspan x="-677" textLength="31" lengthAdjust="spacingAndGlyphs">TIME</tspan> <tspan x="-639" textLength="61" lengthAdjust="spacingAndGlyphs">BETWEEN</tspan> <tspan x="-572" textLength="67" lengthAdjust="spacingAndGlyphs">SHADOWS</tspan> <tspan x="-498" textLength="38" lengthAdjust="spacingAndGlyphs">(SEC)</tspan></text>
</g>
</svg></body></html>
